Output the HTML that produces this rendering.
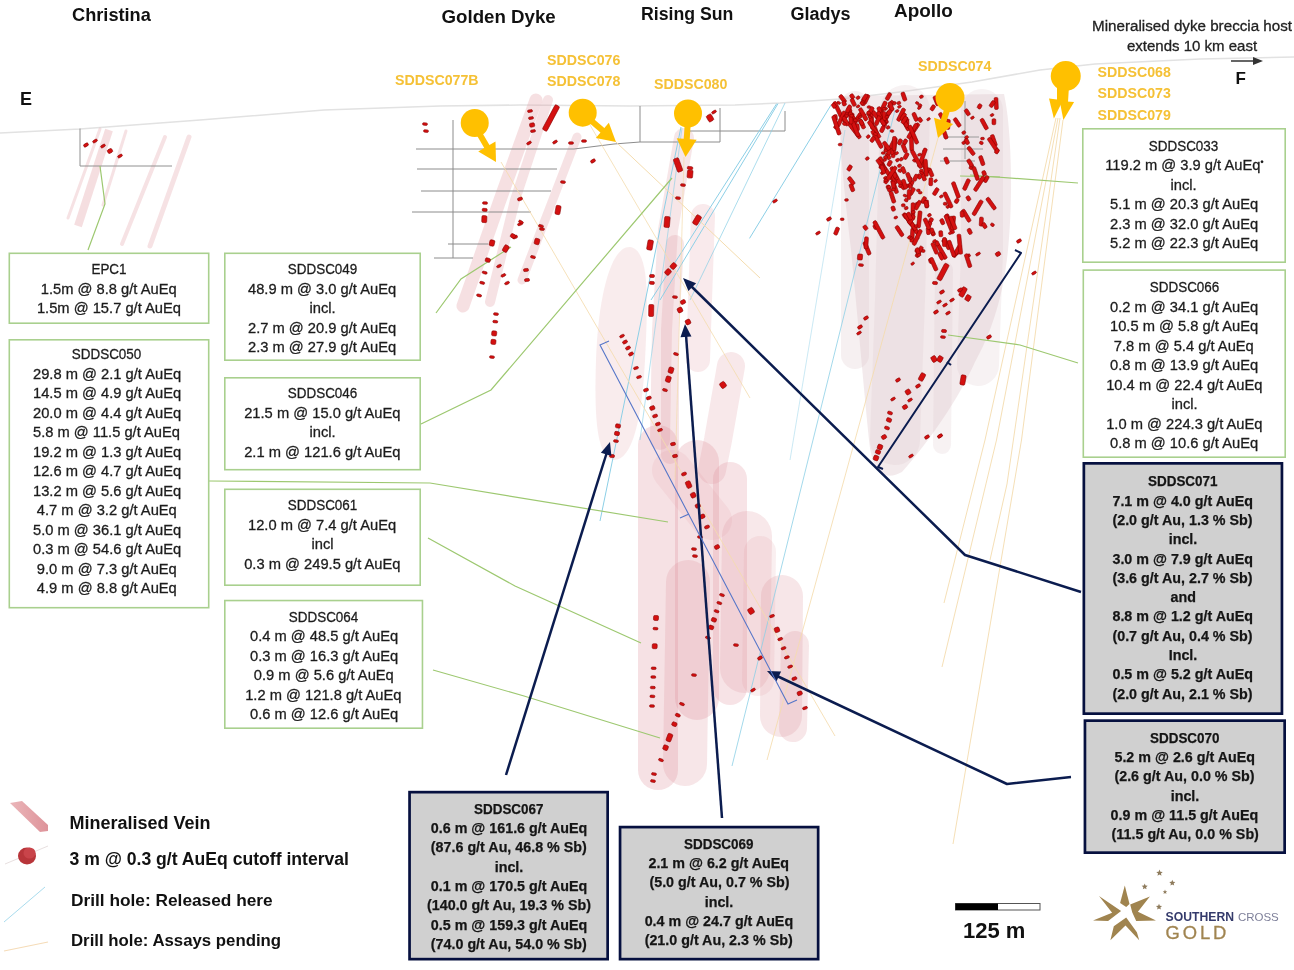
<!DOCTYPE html>
<html><head><meta charset="utf-8"><title>Section</title>
<style>
html,body{margin:0;padding:0;background:#fff;}
body{width:1294px;height:970px;position:relative;overflow:hidden;font-family:"Liberation Sans",sans-serif;}
.bx{position:absolute;}
.tx{position:absolute;text-align:center;color:#1c1c1c;white-space:nowrap;font-family:"Liberation Sans",sans-serif;-webkit-text-stroke:0.3px #1c1c1c;}
.tx.b{font-weight:bold;color:#151515;-webkit-text-stroke:0.25px #151515;}
.tx sup{font-size:9px;vertical-align:5px;line-height:0;}
.lb{position:absolute;white-space:nowrap;line-height:1;}
</style></head><body>
<svg width="1294" height="970" viewBox="0 0 1294 970" style="position:absolute;left:0;top:0"><polyline points="0,133 80,129 200,120 324,110 440,106 520,105 630,106 735,105 780,103 840,99 900,92 972,82 1040,70 1095,64 1200,59 1294,57" fill="none" stroke="#e2e2e2" stroke-width="1.5"/><polyline points="100,129 68,218" fill="none" stroke="rgb(226,160,165)" stroke-opacity="0.3" stroke-width="3" stroke-linecap="round" stroke-linejoin="round"/><line x1="109" y1="130" x2="78" y2="226" stroke="rgb(226,160,165)" stroke-opacity="0.35" stroke-width="8"/><polyline points="126,131 103,205" fill="none" stroke="rgb(226,160,165)" stroke-opacity="0.3" stroke-width="3" stroke-linecap="round" stroke-linejoin="round"/><polyline points="165,137 122,244" fill="none" stroke="rgb(226,160,165)" stroke-opacity="0.3" stroke-width="4" stroke-linecap="round" stroke-linejoin="round"/><polyline points="189,137 150,246" fill="none" stroke="rgb(226,160,165)" stroke-opacity="0.3" stroke-width="5" stroke-linecap="round" stroke-linejoin="round"/><polyline points="536,100 500,200 463,306" fill="none" stroke="rgb(226,160,165)" stroke-opacity="0.32" stroke-width="13" stroke-linecap="round" stroke-linejoin="round"/><polyline points="548,100 515,200 490,302" fill="none" stroke="rgb(226,160,165)" stroke-opacity="0.3" stroke-width="10" stroke-linecap="round" stroke-linejoin="round"/><polyline points="577,137 545,220 522,280" fill="none" stroke="rgb(226,160,165)" stroke-opacity="0.3" stroke-width="9" stroke-linecap="round" stroke-linejoin="round"/><path d="M630,247 C650,250 648,300 645,360 C642,420 632,460 614,460 C597,458 594,420 596,360 C598,300 610,246 630,247 Z" fill="rgb(220,140,150)" fill-opacity="0.17"/><polyline points="684,138 668,230 662,330 660,440" fill="none" stroke="rgb(220,140,150)" stroke-opacity="0.22" stroke-width="20" stroke-linecap="round" stroke-linejoin="round"/><polyline points="675,244 670,330 670,455" fill="none" stroke="rgb(220,140,150)" stroke-opacity="0.22" stroke-width="18" stroke-linecap="round" stroke-linejoin="round"/><polyline points="703,216 700,300 698,360" fill="none" stroke="rgb(220,140,150)" stroke-opacity="0.18" stroke-width="24" stroke-linecap="round" stroke-linejoin="round"/><polyline points="731,366 718,440 712,470" fill="none" stroke="rgb(220,140,150)" stroke-opacity="0.2" stroke-width="28" stroke-linecap="round" stroke-linejoin="round"/><polyline points="658,445 658,770" fill="none" stroke="rgb(220,140,150)" stroke-opacity="0.26" stroke-width="40" stroke-linecap="round" stroke-linejoin="round"/><polyline points="688,582 685,764" fill="none" stroke="rgb(220,140,150)" stroke-opacity="0.22" stroke-width="44" stroke-linecap="round" stroke-linejoin="round"/><polyline points="697,462 697,698" fill="none" stroke="rgb(220,140,150)" stroke-opacity="0.26" stroke-width="44" stroke-linecap="round" stroke-linejoin="round"/><polyline points="730,479 730,688" fill="none" stroke="rgb(220,140,150)" stroke-opacity="0.24" stroke-width="34" stroke-linecap="round" stroke-linejoin="round"/><polyline points="747,536 745,668" fill="none" stroke="rgb(220,140,150)" stroke-opacity="0.2" stroke-width="50" stroke-linecap="round" stroke-linejoin="round"/><polyline points="760,552 758,680" fill="none" stroke="rgb(220,140,150)" stroke-opacity="0.14" stroke-width="32" stroke-linecap="round" stroke-linejoin="round"/><polyline points="782,596 781,716" fill="none" stroke="rgb(220,140,150)" stroke-opacity="0.22" stroke-width="42" stroke-linecap="round" stroke-linejoin="round"/><polyline points="795,645 793,728" fill="none" stroke="rgb(220,140,150)" stroke-opacity="0.22" stroke-width="28" stroke-linecap="round" stroke-linejoin="round"/><polyline points="672,470 712,520" fill="none" stroke="rgb(220,140,150)" stroke-opacity="0.12" stroke-width="40" stroke-linecap="round" stroke-linejoin="round"/><path d="M838,96 L1004,94 C1012,130 1013,200 1008,250 C1003,300 990,335 975,362 C958,400 930,440 902,472 C884,482 872,472 869,440 C863,380 858,320 851,250 C844,190 839,140 838,96Z" fill="rgb(220,195,200)" fill-opacity="0.35"/><polyline points="855,105 855,355" fill="none" stroke="rgb(220,195,200)" stroke-opacity="0.25" stroke-width="28" stroke-linecap="round" stroke-linejoin="round"/><polyline points="905,110 900,300 895,440" fill="none" stroke="rgb(220,195,200)" stroke-opacity="0.22" stroke-width="50" stroke-linecap="round" stroke-linejoin="round"/><polyline points="982,110 982,250 978,365" fill="none" stroke="rgb(220,195,200)" stroke-opacity="0.22" stroke-width="42" stroke-linecap="round" stroke-linejoin="round"/><polyline points="944,270 942,445" fill="none" stroke="rgb(220,195,200)" stroke-opacity="0.22" stroke-width="18" stroke-linecap="round" stroke-linejoin="round"/><polyline points="80,128.5 80,166 172,166" fill="none" stroke="#909090" stroke-width="1"/><polyline points="453,120 453,258" fill="none" stroke="#8c8c8c" stroke-width="1"/><polyline points="416,149 574,149 614,144 640,142 720,142" fill="none" stroke="#8c8c8c" stroke-width="1"/><polyline points="417,169 557,169" fill="none" stroke="#8c8c8c" stroke-width="1"/><polyline points="421,191 551,191" fill="none" stroke="#8c8c8c" stroke-width="1"/><polyline points="412,212 531,212" fill="none" stroke="#8c8c8c" stroke-width="1"/><polyline points="448,244 488,244" fill="none" stroke="#8c8c8c" stroke-width="1"/><polyline points="434,258 473,258" fill="none" stroke="#8c8c8c" stroke-width="1"/><polyline points="640,106 640,142" fill="none" stroke="#8c8c8c" stroke-width="1"/><polyline points="720,108 720,142" fill="none" stroke="#8c8c8c" stroke-width="1"/><polyline points="690,131 785,131 785,111" fill="none" stroke="#8c8c8c" stroke-width="1"/><polyline points="965,101 965,159" fill="none" stroke="#9a9a9a" stroke-width="1"/><polyline points="943,137 979,137" fill="none" stroke="#9a9a9a" stroke-width="1"/><polyline points="943,149 983,149" fill="none" stroke="#9a9a9a" stroke-width="1"/><polyline points="940,161 975,161" fill="none" stroke="#9a9a9a" stroke-width="1"/><line x1="681" y1="127" x2="600" y2="521" stroke="#8ccfe6" stroke-width="1" stroke-opacity="1"/><line x1="682" y1="128" x2="640" y2="440" stroke="#8ccfe6" stroke-width="0.9" stroke-opacity="0.7"/><line x1="776.7" y1="103.6" x2="651" y2="300" stroke="#8ccfe6" stroke-width="1" stroke-opacity="1"/><line x1="778" y1="103.6" x2="660" y2="300" stroke="#8ccfe6" stroke-width="1" stroke-opacity="1"/><line x1="785" y1="103" x2="690" y2="300" stroke="#8ccfe6" stroke-width="0.9" stroke-opacity="0.8"/><line x1="831" y1="105" x2="749.5" y2="238.4" stroke="#8ccfe6" stroke-width="1" stroke-opacity="1"/><line x1="895" y1="110" x2="732" y2="766" stroke="#8ccfe6" stroke-width="1" stroke-opacity="0.8"/><line x1="845" y1="130" x2="790" y2="460" stroke="#8ccfe6" stroke-width="0.9" stroke-opacity="0.5"/><line x1="501" y1="162" x2="835" y2="736" stroke="#f4dcae" stroke-width="1" stroke-opacity="0.85"/><line x1="616" y1="142" x2="760" y2="278" stroke="#f4dcae" stroke-width="1" stroke-opacity="1"/><line x1="590" y1="125" x2="750" y2="398" stroke="#f4dcae" stroke-width="1" stroke-opacity="0.8"/><line x1="684" y1="157" x2="675" y2="480" stroke="#f4dcae" stroke-width="1" stroke-opacity="0.7"/><line x1="938" y1="138" x2="767" y2="760" stroke="#f4dcae" stroke-width="1" stroke-opacity="0.85"/><polyline points="1056,118 985,440 944,603" fill="none" stroke="#f4dcae" stroke-width="1" stroke-opacity="0.9"/><polyline points="1058,118 996.5,440 942,667" fill="none" stroke="#f4dcae" stroke-width="1" stroke-opacity="0.9"/><polyline points="1063,120 1021.5,440 953,844" fill="none" stroke="#f4dcae" stroke-width="1" stroke-opacity="0.9"/><polyline points="1060,118 1007,484 990,560" fill="none" stroke="#f4dcae" stroke-width="1" stroke-opacity="0.9"/><polyline points="88,250 105,204 100,166" fill="none" stroke="#9dc870" stroke-width="1.2"/><polyline points="436,313 461,279 511,247" fill="none" stroke="#9dc870" stroke-width="1.2"/><polyline points="421,424 491,390 672,178" fill="none" stroke="#9dc870" stroke-width="1.2"/><polyline points="209,481 430,483 668,522" fill="none" stroke="#9dc870" stroke-width="1.2"/><polyline points="428,538 515,586 641,643" fill="none" stroke="#9dc870" stroke-width="1.2"/><polyline points="433,670 524,696 660,738" fill="none" stroke="#9dc870" stroke-width="1.2"/><polyline points="970,175 1078,183" fill="none" stroke="#9dc870" stroke-width="1.2"/><polyline points="948,335 1020,345 1078,363" fill="none" stroke="#9dc870" stroke-width="1.2"/><polyline points="960,176 1000,177" fill="none" stroke="#9dc870" stroke-width="1.2"/><rect x="84.5" y="142.5" width="3.0" height="5.0" rx="1.3" transform="rotate(60 86.0 145.0)" fill="#d41010" stroke="#850000" stroke-width="0.55"/><rect x="93.8" y="138.5" width="2.5" height="5.0" rx="1.3" transform="rotate(60 95.0 141.0)" fill="#d41010" stroke="#850000" stroke-width="0.55"/><rect x="101.8" y="143.5" width="2.5" height="5.0" rx="1.3" transform="rotate(60 103.0 146.0)" fill="#d41010" stroke="#850000" stroke-width="0.55"/><rect x="108.0" y="148.5" width="4.0" height="5.0" rx="1.3" transform="rotate(60 110.0 151.0)" fill="#d41010" stroke="#850000" stroke-width="0.55"/><rect x="118.8" y="153.5" width="2.5" height="5.0" rx="1.3" transform="rotate(60 120.0 156.0)" fill="#d41010" stroke="#850000" stroke-width="0.55"/><rect x="528.8" y="108.5" width="2.5" height="5.0" rx="1.3" transform="rotate(81.4692 530.0 111.0)" fill="#d41010" stroke="#850000" stroke-width="0.55"/><rect x="529.8" y="115.5" width="2.5" height="5.0" rx="1.3" transform="rotate(81.4692 531.0 118.0)" fill="#d41010" stroke="#850000" stroke-width="0.55"/><rect x="530.1" y="122.5" width="4.0" height="5.0" rx="1.3" transform="rotate(81.4692 532.1 125.0)" fill="#d41010" stroke="#850000" stroke-width="0.55"/><rect x="531.8" y="128.5" width="2.5" height="5.0" rx="1.3" transform="rotate(81.4692 533.0 131.0)" fill="#d41010" stroke="#850000" stroke-width="0.55"/><rect x="537.0" y="115.5" width="28.0" height="5.0" rx="1.3" transform="rotate(118 551.0 118.0)" fill="#d41010" stroke="#850000" stroke-width="0.55"/><rect x="423.8" y="121.5" width="2.5" height="5.0" rx="1.3" transform="rotate(95 425.0 124.0)" fill="#d41010" stroke="#850000" stroke-width="0.55"/><rect x="424.8" y="128.5" width="2.5" height="5.0" rx="1.3" transform="rotate(95 426.0 131.0)" fill="#d41010" stroke="#850000" stroke-width="0.55"/><rect x="527.8" y="140.5" width="2.5" height="5.0" rx="1.3" transform="rotate(60 529.0 143.0)" fill="#d41010" stroke="#850000" stroke-width="0.55"/><rect x="553.8" y="139.5" width="2.5" height="5.0" rx="1.3" transform="rotate(60 555.0 142.0)" fill="#d41010" stroke="#850000" stroke-width="0.55"/><rect x="569.8" y="140.5" width="2.5" height="5.0" rx="1.3" transform="rotate(90 571.0 143.0)" fill="#d41010" stroke="#850000" stroke-width="0.55"/><rect x="582.8" y="138.5" width="2.5" height="5.0" rx="1.3" transform="rotate(90 584.0 141.0)" fill="#d41010" stroke="#850000" stroke-width="0.55"/><rect x="591.5" y="158.5" width="3.0" height="5.0" rx="1.3" transform="rotate(60 593.0 161.0)" fill="#d41010" stroke="#850000" stroke-width="0.55"/><rect x="561.8" y="179.5" width="2.5" height="5.0" rx="1.3" transform="rotate(95 563.0 182.0)" fill="#d41010" stroke="#850000" stroke-width="0.55"/><rect x="518.5" y="196.5" width="3.0" height="5.0" rx="1.3" transform="rotate(70 520.0 199.0)" fill="#d41010" stroke="#850000" stroke-width="0.55"/><rect x="553.5" y="207.5" width="9.0" height="5.0" rx="1.3" transform="rotate(100 558.0 210.0)" fill="#d41010" stroke="#850000" stroke-width="0.55"/><rect x="518.8" y="221.5" width="2.5" height="5.0" rx="1.3" transform="rotate(70 520.0 224.0)" fill="#d41010" stroke="#850000" stroke-width="0.55"/><rect x="540.8" y="226.5" width="2.5" height="5.0" rx="1.3" transform="rotate(95 542.0 229.0)" fill="#d41010" stroke="#850000" stroke-width="0.55"/><rect x="513.5" y="234.5" width="3.0" height="5.0" rx="1.3" transform="rotate(70 515.0 237.0)" fill="#d41010" stroke="#850000" stroke-width="0.55"/><rect x="483.8" y="200.5" width="2.5" height="5.0" rx="1.3" transform="rotate(92.4896 485.0 203.0)" fill="#d41010" stroke="#850000" stroke-width="0.55"/><rect x="483.2" y="207.4" width="3.0" height="5.0" rx="1.3" transform="rotate(92.4896 484.7 209.9)" fill="#d41010" stroke="#850000" stroke-width="0.55"/><rect x="480.8" y="216.6" width="7.0" height="5.0" rx="1.3" transform="rotate(92.4896 484.3 219.1)" fill="#d41010" stroke="#850000" stroke-width="0.55"/><rect x="489.0" y="240.5" width="6.0" height="5.0" rx="1.3" transform="rotate(103.799 492.0 243.0)" fill="#d41010" stroke="#850000" stroke-width="0.55"/><rect x="485.8" y="257.6" width="4.0" height="5.0" rx="1.3" transform="rotate(103.799 487.8 260.1)" fill="#d41010" stroke="#850000" stroke-width="0.55"/><rect x="483.5" y="270.1" width="2.5" height="5.0" rx="1.3" transform="rotate(103.799 484.7 272.6)" fill="#d41010" stroke="#850000" stroke-width="0.55"/><rect x="480.9" y="280.4" width="2.5" height="5.0" rx="1.3" transform="rotate(103.799 482.2 282.9)" fill="#d41010" stroke="#850000" stroke-width="0.55"/><rect x="477.9" y="292.9" width="2.5" height="5.0" rx="1.3" transform="rotate(103.799 479.1 295.4)" fill="#d41010" stroke="#850000" stroke-width="0.55"/><rect x="519.8" y="219.5" width="2.5" height="5.0" rx="1.3" transform="rotate(119.745 521.0 222.0)" fill="#d41010" stroke="#850000" stroke-width="0.55"/><rect x="511.0" y="233.5" width="4.0" height="5.0" rx="1.3" transform="rotate(119.745 513.0 236.0)" fill="#d41010" stroke="#850000" stroke-width="0.55"/><rect x="502.3" y="246.1" width="7.0" height="5.0" rx="1.3" transform="rotate(119.745 505.8 248.6)" fill="#d41010" stroke="#850000" stroke-width="0.55"/><rect x="497.8" y="263.5" width="2.5" height="5.0" rx="1.3" transform="rotate(64.7989 499.0 266.0)" fill="#d41010" stroke="#850000" stroke-width="0.55"/><rect x="502.1" y="272.9" width="2.5" height="5.0" rx="1.3" transform="rotate(64.7989 503.4 275.4)" fill="#d41010" stroke="#850000" stroke-width="0.55"/><rect x="505.8" y="280.5" width="2.5" height="5.0" rx="1.3" transform="rotate(64.7989 507.0 283.0)" fill="#d41010" stroke="#850000" stroke-width="0.55"/><rect x="539.8" y="223.5" width="2.5" height="5.0" rx="1.3" transform="rotate(104.47 541.0 226.0)" fill="#d41010" stroke="#850000" stroke-width="0.55"/><rect x="534.0" y="239.0" width="6.0" height="5.0" rx="1.3" transform="rotate(104.47 537.0 241.5)" fill="#d41010" stroke="#850000" stroke-width="0.55"/><rect x="531.8" y="254.5" width="2.5" height="5.0" rx="1.3" transform="rotate(104.47 533.0 257.0)" fill="#d41010" stroke="#850000" stroke-width="0.55"/><rect x="524.5" y="267.5" width="3.0" height="5.0" rx="1.3" transform="rotate(84.2894 526.0 270.0)" fill="#d41010" stroke="#850000" stroke-width="0.55"/><rect x="525.5" y="277.5" width="3.0" height="5.0" rx="1.3" transform="rotate(84.2894 527.0 280.0)" fill="#d41010" stroke="#850000" stroke-width="0.55"/><rect x="494.8" y="311.5" width="2.5" height="5.0" rx="1.3" transform="rotate(95.3145 496.0 314.0)" fill="#d41010" stroke="#850000" stroke-width="0.55"/><rect x="494.0" y="319.2" width="2.5" height="5.0" rx="1.3" transform="rotate(95.3145 495.3 321.7)" fill="#d41010" stroke="#850000" stroke-width="0.55"/><rect x="491.7" y="330.9" width="5.0" height="5.0" rx="1.3" transform="rotate(95.3145 494.2 333.4)" fill="#d41010" stroke="#850000" stroke-width="0.55"/><rect x="490.9" y="339.4" width="5.0" height="5.0" rx="1.3" transform="rotate(95.3145 493.4 341.9)" fill="#d41010" stroke="#850000" stroke-width="0.55"/><rect x="490.8" y="354.5" width="2.5" height="5.0" rx="1.3" transform="rotate(95.3145 492.0 357.0)" fill="#d41010" stroke="#850000" stroke-width="0.55"/><rect x="671.0" y="162.2" width="14.0" height="5.5" rx="1.3" transform="rotate(70 678.0 165.0)" fill="#d41010" stroke="#850000" stroke-width="0.55"/><rect x="686.0" y="171.2" width="8.0" height="5.5" rx="1.3" transform="rotate(95 690.0 174.0)" fill="#d41010" stroke="#850000" stroke-width="0.55"/><rect x="688.5" y="165.2" width="3.0" height="5.5" rx="1.3" transform="rotate(95 690.0 168.0)" fill="#d41010" stroke="#850000" stroke-width="0.55"/><rect x="681.8" y="182.5" width="2.5" height="5.0" rx="1.3" transform="rotate(95 683.0 185.0)" fill="#d41010" stroke="#850000" stroke-width="0.55"/><rect x="676.8" y="195.5" width="2.5" height="5.0" rx="1.3" transform="rotate(95 678.0 198.0)" fill="#d41010" stroke="#850000" stroke-width="0.55"/><rect x="661.5" y="219.2" width="11.0" height="5.5" rx="1.3" transform="rotate(95 667.0 222.0)" fill="#d41010" stroke="#850000" stroke-width="0.55"/><rect x="645.0" y="242.2" width="10.0" height="5.5" rx="1.3" transform="rotate(100 650.0 245.0)" fill="#d41010" stroke="#850000" stroke-width="0.55"/><rect x="650.5" y="273.5" width="3.0" height="5.0" rx="1.3" transform="rotate(91.2454 652.0 276.0)" fill="#d41010" stroke="#850000" stroke-width="0.55"/><rect x="650.4" y="280.4" width="3.0" height="5.0" rx="1.3" transform="rotate(91.2454 651.9 282.9)" fill="#d41010" stroke="#850000" stroke-width="0.55"/><rect x="645.2" y="308.0" width="12.0" height="5.0" rx="1.3" transform="rotate(91.2454 651.2 310.5)" fill="#d41010" stroke="#850000" stroke-width="0.55"/><rect x="665.0" y="269.5" width="6.0" height="5.0" rx="1.3" transform="rotate(-48.0128 668.0 272.0)" fill="#d41010" stroke="#850000" stroke-width="0.55"/><rect x="670.4" y="263.5" width="6.0" height="5.0" rx="1.3" transform="rotate(-48.0128 673.4 266.0)" fill="#d41010" stroke="#850000" stroke-width="0.55"/><rect x="673.8" y="294.5" width="2.5" height="5.0" rx="1.3" transform="rotate(95 675.0 297.0)" fill="#d41010" stroke="#850000" stroke-width="0.55"/><rect x="677.5" y="307.5" width="5.0" height="5.0" rx="1.3" transform="rotate(65 680.0 310.0)" fill="#d41010" stroke="#850000" stroke-width="0.55"/><rect x="681.0" y="299.5" width="4.0" height="5.0" rx="1.3" transform="rotate(65 683.0 302.0)" fill="#d41010" stroke="#850000" stroke-width="0.55"/><rect x="685.5" y="319.5" width="5.0" height="5.0" rx="1.3" transform="rotate(65 688.0 322.0)" fill="#d41010" stroke="#850000" stroke-width="0.55"/><rect x="692.0" y="217.2" width="10.0" height="5.5" rx="1.3" transform="rotate(120 697.0 220.0)" fill="#d41010" stroke="#850000" stroke-width="0.55"/><rect x="706.5" y="115.2" width="7.0" height="5.5" rx="1.3" transform="rotate(60 710.0 118.0)" fill="#d41010" stroke="#850000" stroke-width="0.55"/><rect x="712.8" y="109.5" width="2.5" height="5.0" rx="1.3" transform="rotate(60 714.0 112.0)" fill="#d41010" stroke="#850000" stroke-width="0.55"/><rect x="620.8" y="333.5" width="2.5" height="5.0" rx="1.3" transform="rotate(63.4349 622.0 336.0)" fill="#d41010" stroke="#850000" stroke-width="0.55"/><rect x="623.5" y="339.5" width="3.0" height="5.0" rx="1.3" transform="rotate(63.4349 625.0 342.0)" fill="#d41010" stroke="#850000" stroke-width="0.55"/><rect x="626.5" y="345.5" width="3.0" height="5.0" rx="1.3" transform="rotate(63.4349 628.0 348.0)" fill="#d41010" stroke="#850000" stroke-width="0.55"/><rect x="629.5" y="351.5" width="3.0" height="5.0" rx="1.3" transform="rotate(63.4349 631.0 354.0)" fill="#d41010" stroke="#850000" stroke-width="0.55"/><rect x="634.8" y="365.5" width="2.5" height="5.0" rx="1.3" transform="rotate(71.5651 636.0 368.0)" fill="#d41010" stroke="#850000" stroke-width="0.55"/><rect x="637.8" y="374.5" width="2.5" height="5.0" rx="1.3" transform="rotate(71.5651 639.0 377.0)" fill="#d41010" stroke="#850000" stroke-width="0.55"/><rect x="644.5" y="387.5" width="3.0" height="5.0" rx="1.3" transform="rotate(70.71 646.0 390.0)" fill="#d41010" stroke="#850000" stroke-width="0.55"/><rect x="647.3" y="395.5" width="3.0" height="5.0" rx="1.3" transform="rotate(70.71 648.8 398.0)" fill="#d41010" stroke="#850000" stroke-width="0.55"/><rect x="650.3" y="405.5" width="4.0" height="5.0" rx="1.3" transform="rotate(70.71 652.3 408.0)" fill="#d41010" stroke="#850000" stroke-width="0.55"/><rect x="653.6" y="413.5" width="3.0" height="5.0" rx="1.3" transform="rotate(70.71 655.1 416.0)" fill="#d41010" stroke="#850000" stroke-width="0.55"/><rect x="656.4" y="421.5" width="3.0" height="5.0" rx="1.3" transform="rotate(70.71 657.9 424.0)" fill="#d41010" stroke="#850000" stroke-width="0.55"/><rect x="658.8" y="427.5" width="2.5" height="5.0" rx="1.3" transform="rotate(70.71 660.0 430.0)" fill="#d41010" stroke="#850000" stroke-width="0.55"/><rect x="616.0" y="423.5" width="4.0" height="5.0" rx="1.3" transform="rotate(97.5946 618.0 426.0)" fill="#d41010" stroke="#850000" stroke-width="0.55"/><rect x="615.0" y="431.0" width="4.0" height="5.0" rx="1.3" transform="rotate(97.5946 617.0 433.5)" fill="#d41010" stroke="#850000" stroke-width="0.55"/><rect x="614.8" y="438.5" width="2.5" height="5.0" rx="1.3" transform="rotate(97.5946 616.0 441.0)" fill="#d41010" stroke="#850000" stroke-width="0.55"/><rect x="674.8" y="351.5" width="2.5" height="5.0" rx="1.3" transform="rotate(106.991 676.0 354.0)" fill="#d41010" stroke="#850000" stroke-width="0.55"/><rect x="668.0" y="367.7" width="6.0" height="5.0" rx="1.3" transform="rotate(106.991 671.0 370.2)" fill="#d41010" stroke="#850000" stroke-width="0.55"/><rect x="665.3" y="376.7" width="6.0" height="5.0" rx="1.3" transform="rotate(106.991 668.3 379.2)" fill="#d41010" stroke="#850000" stroke-width="0.55"/><rect x="663.8" y="387.5" width="2.5" height="5.0" rx="1.3" transform="rotate(106.991 665.0 390.0)" fill="#d41010" stroke="#850000" stroke-width="0.55"/><rect x="720.0" y="382.2" width="6.0" height="5.5" rx="1.3" transform="rotate(55 723.0 385.0)" fill="#d41010" stroke="#850000" stroke-width="0.55"/><rect x="610.5" y="453.5" width="3.0" height="5.0" rx="1.3" transform="rotate(95 612.0 456.0)" fill="#d41010" stroke="#850000" stroke-width="0.55"/><rect x="671.5" y="441.5" width="3.0" height="5.0" rx="1.3" transform="rotate(80.5377 673.0 444.0)" fill="#d41010" stroke="#850000" stroke-width="0.55"/><rect x="673.5" y="453.5" width="3.0" height="5.0" rx="1.3" transform="rotate(80.5377 675.0 456.0)" fill="#d41010" stroke="#850000" stroke-width="0.55"/><rect x="682.5" y="471.5" width="3.0" height="5.0" rx="1.3" transform="rotate(66.541 684.0 474.0)" fill="#d41010" stroke="#850000" stroke-width="0.55"/><rect x="685.1" y="482.1" width="7.0" height="5.0" rx="1.3" transform="rotate(66.541 688.6 484.6)" fill="#d41010" stroke="#850000" stroke-width="0.55"/><rect x="690.7" y="492.7" width="5.0" height="5.0" rx="1.3" transform="rotate(66.541 693.2 495.2)" fill="#d41010" stroke="#850000" stroke-width="0.55"/><rect x="695.8" y="503.3" width="4.0" height="5.0" rx="1.3" transform="rotate(66.541 697.8 505.8)" fill="#d41010" stroke="#850000" stroke-width="0.55"/><rect x="700.4" y="513.9" width="4.0" height="5.0" rx="1.3" transform="rotate(66.541 702.4 516.4)" fill="#d41010" stroke="#850000" stroke-width="0.55"/><rect x="705.5" y="524.5" width="3.0" height="5.0" rx="1.3" transform="rotate(66.541 707.0 527.0)" fill="#d41010" stroke="#850000" stroke-width="0.55"/><rect x="698.8" y="534.5" width="2.5" height="5.0" rx="1.3" transform="rotate(95 700.0 537.0)" fill="#d41010" stroke="#850000" stroke-width="0.55"/><rect x="715.0" y="544.5" width="4.0" height="5.0" rx="1.3" transform="rotate(65 717.0 547.0)" fill="#d41010" stroke="#850000" stroke-width="0.55"/><rect x="692.8" y="546.5" width="2.5" height="5.0" rx="1.3" transform="rotate(95 694.0 549.0)" fill="#d41010" stroke="#850000" stroke-width="0.55"/><rect x="693.8" y="553.5" width="2.5" height="5.0" rx="1.3" transform="rotate(95 695.0 556.0)" fill="#d41010" stroke="#850000" stroke-width="0.55"/><rect x="653.5" y="615.5" width="5.0" height="5.0" rx="1.3" transform="rotate(92.6026 656.0 618.0)" fill="#d41010" stroke="#850000" stroke-width="0.55"/><rect x="654.3" y="626.1" width="2.5" height="5.0" rx="1.3" transform="rotate(92.6026 655.5 628.6)" fill="#d41010" stroke="#850000" stroke-width="0.55"/><rect x="652.2" y="643.7" width="5.0" height="5.0" rx="1.3" transform="rotate(92.6026 654.7 646.2)" fill="#d41010" stroke="#850000" stroke-width="0.55"/><rect x="652.5" y="665.7" width="2.5" height="5.0" rx="1.3" transform="rotate(92.6026 653.7 668.2)" fill="#d41010" stroke="#850000" stroke-width="0.55"/><rect x="652.1" y="674.5" width="2.5" height="5.0" rx="1.3" transform="rotate(92.6026 653.3 677.0)" fill="#d41010" stroke="#850000" stroke-width="0.55"/><rect x="651.6" y="685.0" width="2.5" height="5.0" rx="1.3" transform="rotate(92.6026 652.8 687.5)" fill="#d41010" stroke="#850000" stroke-width="0.55"/><rect x="651.2" y="693.8" width="2.5" height="5.0" rx="1.3" transform="rotate(92.6026 652.4 696.3)" fill="#d41010" stroke="#850000" stroke-width="0.55"/><rect x="650.8" y="703.5" width="2.5" height="5.0" rx="1.3" transform="rotate(92.6026 652.0 706.0)" fill="#d41010" stroke="#850000" stroke-width="0.55"/><rect x="720.8" y="592.5" width="2.5" height="5.0" rx="1.3" transform="rotate(108.435 722.0 595.0)" fill="#d41010" stroke="#850000" stroke-width="0.55"/><rect x="718.0" y="600.6" width="2.5" height="5.0" rx="1.3" transform="rotate(108.435 719.3 603.1)" fill="#d41010" stroke="#850000" stroke-width="0.55"/><rect x="715.4" y="608.7" width="2.5" height="5.0" rx="1.3" transform="rotate(108.435 716.6 611.2)" fill="#d41010" stroke="#850000" stroke-width="0.55"/><rect x="711.8" y="617.2" width="4.0" height="5.0" rx="1.3" transform="rotate(108.435 713.8 619.8)" fill="#d41010" stroke="#850000" stroke-width="0.55"/><rect x="709.2" y="624.9" width="4.0" height="5.0" rx="1.3" transform="rotate(108.435 711.2 627.4)" fill="#d41010" stroke="#850000" stroke-width="0.55"/><rect x="706.5" y="635.2" width="2.5" height="5.0" rx="1.3" transform="rotate(108.435 707.8 637.8)" fill="#d41010" stroke="#850000" stroke-width="0.55"/><rect x="692.8" y="672.5" width="2.5" height="5.0" rx="1.3" transform="rotate(95 694.0 675.0)" fill="#d41010" stroke="#850000" stroke-width="0.55"/><rect x="680.8" y="701.5" width="2.5" height="5.0" rx="1.3" transform="rotate(110.556 682.0 704.0)" fill="#d41010" stroke="#850000" stroke-width="0.55"/><rect x="676.3" y="712.7" width="3.0" height="5.0" rx="1.3" transform="rotate(110.556 677.8 715.2)" fill="#d41010" stroke="#850000" stroke-width="0.55"/><rect x="672.4" y="721.7" width="4.0" height="5.0" rx="1.3" transform="rotate(110.556 674.4 724.2)" fill="#d41010" stroke="#850000" stroke-width="0.55"/><rect x="665.4" y="735.1" width="8.0" height="5.0" rx="1.3" transform="rotate(110.556 669.4 737.6)" fill="#d41010" stroke="#850000" stroke-width="0.55"/><rect x="663.1" y="745.2" width="5.0" height="5.0" rx="1.3" transform="rotate(110.556 665.6 747.7)" fill="#d41010" stroke="#850000" stroke-width="0.55"/><rect x="659.8" y="757.5" width="2.5" height="5.0" rx="1.3" transform="rotate(110.556 661.0 760.0)" fill="#d41010" stroke="#850000" stroke-width="0.55"/><rect x="652.8" y="771.5" width="2.5" height="5.0" rx="1.3" transform="rotate(98.1301 654.0 774.0)" fill="#d41010" stroke="#850000" stroke-width="0.55"/><rect x="651.8" y="778.5" width="2.5" height="5.0" rx="1.3" transform="rotate(98.1301 653.0 781.0)" fill="#d41010" stroke="#850000" stroke-width="0.55"/><rect x="748.0" y="608.2" width="6.0" height="5.5" rx="1.3" transform="rotate(60 751.0 611.0)" fill="#d41010" stroke="#850000" stroke-width="0.55"/><rect x="770.8" y="613.5" width="2.5" height="5.0" rx="1.3" transform="rotate(70.2673 772.0 616.0)" fill="#d41010" stroke="#850000" stroke-width="0.55"/><rect x="774.5" y="627.3" width="5.0" height="5.0" rx="1.3" transform="rotate(70.2673 777.0 629.8)" fill="#d41010" stroke="#850000" stroke-width="0.55"/><rect x="779.0" y="636.5" width="2.5" height="5.0" rx="1.3" transform="rotate(70.2673 780.2 639.0)" fill="#d41010" stroke="#850000" stroke-width="0.55"/><rect x="782.3" y="645.7" width="2.5" height="5.0" rx="1.3" transform="rotate(70.2673 783.5 648.2)" fill="#d41010" stroke="#850000" stroke-width="0.55"/><rect x="785.6" y="654.9" width="2.5" height="5.0" rx="1.3" transform="rotate(70.2673 786.9 657.4)" fill="#d41010" stroke="#850000" stroke-width="0.55"/><rect x="788.9" y="664.1" width="2.5" height="5.0" rx="1.3" transform="rotate(70.2673 790.1 666.6)" fill="#d41010" stroke="#850000" stroke-width="0.55"/><rect x="792.9" y="676.1" width="3.0" height="5.0" rx="1.3" transform="rotate(70.2673 794.4 678.6)" fill="#d41010" stroke="#850000" stroke-width="0.55"/><rect x="797.7" y="690.8" width="4.0" height="5.0" rx="1.3" transform="rotate(70.2673 799.7 693.3)" fill="#d41010" stroke="#850000" stroke-width="0.55"/><rect x="803.8" y="705.5" width="2.5" height="5.0" rx="1.3" transform="rotate(70.2673 805.0 708.0)" fill="#d41010" stroke="#850000" stroke-width="0.55"/><rect x="758.5" y="655.5" width="3.0" height="5.0" rx="1.3" transform="rotate(60 760.0 658.0)" fill="#d41010" stroke="#850000" stroke-width="0.55"/><rect x="751.8" y="687.5" width="2.5" height="5.0" rx="1.3" transform="rotate(60 753.0 690.0)" fill="#d41010" stroke="#850000" stroke-width="0.55"/><rect x="734.8" y="642.5" width="2.5" height="5.0" rx="1.3" transform="rotate(95 736.0 645.0)" fill="#d41010" stroke="#850000" stroke-width="0.55"/><rect x="773.8" y="198.5" width="2.5" height="5.0" rx="1.3" transform="rotate(60 775.0 201.0)" fill="#d41010" stroke="#850000" stroke-width="0.55"/><rect x="827.5" y="216.5" width="3.0" height="5.0" rx="1.3" transform="rotate(60 829.0 219.0)" fill="#d41010" stroke="#850000" stroke-width="0.55"/><rect x="816.8" y="230.5" width="2.5" height="5.0" rx="1.3" transform="rotate(60 818.0 233.0)" fill="#d41010" stroke="#850000" stroke-width="0.55"/><rect x="857.0" y="254.5" width="6.0" height="5.0" rx="1.3" transform="rotate(95 860.0 257.0)" fill="#d41010" stroke="#850000" stroke-width="0.55"/><rect x="859.8" y="262.5" width="2.5" height="5.0" rx="1.3" transform="rotate(95 861.0 265.0)" fill="#d41010" stroke="#850000" stroke-width="0.55"/><rect x="864.5" y="315.5" width="3.0" height="5.0" rx="1.3" transform="rotate(60 866.0 318.0)" fill="#d41010" stroke="#850000" stroke-width="0.55"/><rect x="858.5" y="324.5" width="3.0" height="5.0" rx="1.3" transform="rotate(60 860.0 327.0)" fill="#d41010" stroke="#850000" stroke-width="0.55"/><rect x="857.8" y="330.5" width="2.5" height="5.0" rx="1.3" transform="rotate(60 859.0 333.0)" fill="#d41010" stroke="#850000" stroke-width="0.55"/><rect x="909.8" y="453.5" width="2.5" height="5.0" rx="1.3" transform="rotate(60 911.0 456.0)" fill="#d41010" stroke="#850000" stroke-width="0.55"/><rect x="1017.5" y="238.5" width="3.0" height="5.0" rx="1.3" transform="rotate(60 1019.0 241.0)" fill="#d41010" stroke="#850000" stroke-width="0.55"/><rect x="1032.8" y="270.5" width="2.5" height="5.0" rx="1.3" transform="rotate(60 1034.0 273.0)" fill="#d41010" stroke="#850000" stroke-width="0.55"/><rect x="987.5" y="334.5" width="3.0" height="5.0" rx="1.3" transform="rotate(60 989.0 337.0)" fill="#d41010" stroke="#850000" stroke-width="0.55"/><rect x="938.8" y="433.5" width="2.5" height="5.0" rx="1.3" transform="rotate(60 940.0 436.0)" fill="#d41010" stroke="#850000" stroke-width="0.55"/><rect x="934.0" y="269.5" width="18.0" height="5.0" rx="1.3" transform="rotate(118 943.0 272.0)" fill="#d41010" stroke="#850000" stroke-width="0.55"/><rect x="933.5" y="280.5" width="3.0" height="5.0" rx="1.3" transform="rotate(95 935.0 283.0)" fill="#d41010" stroke="#850000" stroke-width="0.55"/><rect x="940.5" y="289.5" width="3.0" height="5.0" rx="1.3" transform="rotate(60 942.0 292.0)" fill="#d41010" stroke="#850000" stroke-width="0.55"/><rect x="937.8" y="299.5" width="2.5" height="5.0" rx="1.3" transform="rotate(60 939.0 302.0)" fill="#d41010" stroke="#850000" stroke-width="0.55"/><rect x="943.8" y="302.5" width="2.5" height="5.0" rx="1.3" transform="rotate(60 945.0 305.0)" fill="#d41010" stroke="#850000" stroke-width="0.55"/><rect x="946.8" y="310.5" width="2.5" height="5.0" rx="1.3" transform="rotate(60 948.0 313.0)" fill="#d41010" stroke="#850000" stroke-width="0.55"/><rect x="934.5" y="309.5" width="3.0" height="5.0" rx="1.3" transform="rotate(60 936.0 312.0)" fill="#d41010" stroke="#850000" stroke-width="0.55"/><rect x="958.0" y="289.5" width="10.0" height="5.0" rx="1.3" transform="rotate(118 963.0 292.0)" fill="#d41010" stroke="#850000" stroke-width="0.55"/><rect x="965.0" y="295.5" width="6.0" height="5.0" rx="1.3" transform="rotate(118 968.0 298.0)" fill="#d41010" stroke="#850000" stroke-width="0.55"/><rect x="966.5" y="253.5" width="3.0" height="5.0" rx="1.3" transform="rotate(60 968.0 256.0)" fill="#d41010" stroke="#850000" stroke-width="0.55"/><rect x="976.8" y="251.5" width="2.5" height="5.0" rx="1.3" transform="rotate(60 978.0 254.0)" fill="#d41010" stroke="#850000" stroke-width="0.55"/><rect x="996.0" y="251.5" width="4.0" height="5.0" rx="1.3" transform="rotate(60 998.0 254.0)" fill="#d41010" stroke="#850000" stroke-width="0.55"/><rect x="942.5" y="328.5" width="3.0" height="5.0" rx="1.3" transform="rotate(95 944.0 331.0)" fill="#d41010" stroke="#850000" stroke-width="0.55"/><rect x="941.8" y="334.5" width="2.5" height="5.0" rx="1.3" transform="rotate(95 943.0 337.0)" fill="#d41010" stroke="#850000" stroke-width="0.55"/><rect x="931.0" y="356.5" width="6.0" height="5.0" rx="1.3" transform="rotate(60 934.0 359.0)" fill="#d41010" stroke="#850000" stroke-width="0.55"/><rect x="937.0" y="356.5" width="6.0" height="5.0" rx="1.3" transform="rotate(118 940.0 359.0)" fill="#d41010" stroke="#850000" stroke-width="0.55"/><rect x="958.0" y="377.5" width="10.0" height="5.0" rx="1.3" transform="rotate(100 963.0 380.0)" fill="#d41010" stroke="#850000" stroke-width="0.55"/><rect x="918.0" y="374.5" width="8.0" height="5.0" rx="1.3" transform="rotate(118 922.0 377.0)" fill="#d41010" stroke="#850000" stroke-width="0.55"/><rect x="916.5" y="383.5" width="3.0" height="5.0" rx="1.3" transform="rotate(60 918.0 386.0)" fill="#d41010" stroke="#850000" stroke-width="0.55"/><rect x="905.5" y="389.5" width="5.0" height="5.0" rx="1.3" transform="rotate(60 908.0 392.0)" fill="#d41010" stroke="#850000" stroke-width="0.55"/><rect x="908.8" y="397.5" width="2.5" height="5.0" rx="1.3" transform="rotate(60 910.0 400.0)" fill="#d41010" stroke="#850000" stroke-width="0.55"/><rect x="903.0" y="404.5" width="4.0" height="5.0" rx="1.3" transform="rotate(60 905.0 407.0)" fill="#d41010" stroke="#850000" stroke-width="0.55"/><rect x="891.8" y="396.5" width="2.5" height="5.0" rx="1.3" transform="rotate(60 893.0 399.0)" fill="#d41010" stroke="#850000" stroke-width="0.55"/><rect x="888.5" y="410.5" width="3.0" height="5.0" rx="1.3" transform="rotate(110 890.0 413.0)" fill="#d41010" stroke="#850000" stroke-width="0.55"/><rect x="887.0" y="417.5" width="4.0" height="5.0" rx="1.3" transform="rotate(110 889.0 420.0)" fill="#d41010" stroke="#850000" stroke-width="0.55"/><rect x="885.5" y="425.5" width="3.0" height="5.0" rx="1.3" transform="rotate(110 887.0 428.0)" fill="#d41010" stroke="#850000" stroke-width="0.55"/><rect x="882.0" y="434.5" width="4.0" height="5.0" rx="1.3" transform="rotate(60 884.0 437.0)" fill="#d41010" stroke="#850000" stroke-width="0.55"/><rect x="877.5" y="444.5" width="5.0" height="5.0" rx="1.3" transform="rotate(110 880.0 447.0)" fill="#d41010" stroke="#850000" stroke-width="0.55"/><rect x="876.0" y="449.5" width="4.0" height="5.0" rx="1.3" transform="rotate(110 878.0 452.0)" fill="#d41010" stroke="#850000" stroke-width="0.55"/><rect x="873.5" y="455.5" width="5.0" height="5.0" rx="1.3" transform="rotate(110 876.0 458.0)" fill="#d41010" stroke="#850000" stroke-width="0.55"/><rect x="925.5" y="434.5" width="3.0" height="5.0" rx="1.3" transform="rotate(60 927.0 437.0)" fill="#d41010" stroke="#850000" stroke-width="0.55"/><rect x="938.5" y="433.5" width="3.0" height="5.0" rx="1.3" transform="rotate(60 940.0 436.0)" fill="#d41010" stroke="#850000" stroke-width="0.55"/><rect x="896.5" y="377.5" width="3.0" height="5.0" rx="1.3" transform="rotate(60 898.0 380.0)" fill="#d41010" stroke="#850000" stroke-width="0.55"/><rect x="958.5" y="287.5" width="3.0" height="5.0" rx="1.3" transform="rotate(60 960.0 290.0)" fill="#d41010" stroke="#850000" stroke-width="0.55"/><rect x="950.8" y="297.5" width="2.5" height="5.0" rx="1.3" transform="rotate(60 952.0 300.0)" fill="#d41010" stroke="#850000" stroke-width="0.55"/><rect x="874.6" y="114.3" width="17.0" height="3.8" rx="1.3" transform="rotate(69.1009 883.1 116.2)" fill="#d41010" stroke="#850000" stroke-width="0.55"/><rect x="849.0" y="123.0" width="9.0" height="3.8" rx="1.3" transform="rotate(111.412 853.5 124.9)" fill="#d41010" stroke="#850000" stroke-width="0.55"/><rect x="861.3" y="97.4" width="10.0" height="3.8" rx="1.3" transform="rotate(115.942 866.3 99.3)" fill="#d41010" stroke="#850000" stroke-width="0.55"/><rect x="878.7" y="120.7" width="9.0" height="3.8" rx="1.3" transform="rotate(62.5676 883.2 122.6)" fill="#d41010" stroke="#850000" stroke-width="0.55"/><rect x="837.5" y="100.9" width="2.5" height="3.8" rx="1.3" transform="rotate(114.894 838.7 102.8)" fill="#d41010" stroke="#850000" stroke-width="0.55"/><rect x="897.3" y="101.1" width="3.0" height="3.8" rx="1.3" transform="rotate(65.249 898.8 103.0)" fill="#d41010" stroke="#850000" stroke-width="0.55"/><rect x="878.7" y="104.1" width="10.0" height="3.8" rx="1.3" transform="rotate(114.729 883.7 106.0)" fill="#d41010" stroke="#850000" stroke-width="0.55"/><rect x="856.7" y="104.5" width="2.5" height="3.8" rx="1.3" transform="rotate(68.9317 858.0 106.4)" fill="#d41010" stroke="#850000" stroke-width="0.55"/><rect x="870.7" y="128.6" width="10.0" height="3.8" rx="1.3" transform="rotate(70.5408 875.7 130.5)" fill="#d41010" stroke="#850000" stroke-width="0.55"/><rect x="829.4" y="107.6" width="17.0" height="3.8" rx="1.3" transform="rotate(64.5891 837.9 109.5)" fill="#d41010" stroke="#850000" stroke-width="0.55"/><rect x="918.5" y="103.8" width="3.0" height="3.8" rx="1.3" transform="rotate(60.201 920.0 105.7)" fill="#d41010" stroke="#850000" stroke-width="0.55"/><rect x="931.3" y="98.9" width="10.0" height="3.8" rx="1.3" transform="rotate(67.9404 936.3 100.8)" fill="#d41010" stroke="#850000" stroke-width="0.55"/><rect x="849.1" y="114.2" width="6.0" height="3.8" rx="1.3" transform="rotate(94.7733 852.1 116.1)" fill="#d41010" stroke="#850000" stroke-width="0.55"/><rect x="876.4" y="107.9" width="6.0" height="3.8" rx="1.3" transform="rotate(69.2867 879.4 109.8)" fill="#d41010" stroke="#850000" stroke-width="0.55"/><rect x="937.2" y="115.4" width="10.0" height="3.8" rx="1.3" transform="rotate(59.8855 942.2 117.3)" fill="#d41010" stroke="#850000" stroke-width="0.55"/><rect x="927.3" y="117.2" width="2.5" height="3.8" rx="1.3" transform="rotate(57.1656 928.5 119.1)" fill="#d41010" stroke="#850000" stroke-width="0.55"/><rect x="918.1" y="105.9" width="2.5" height="3.8" rx="1.3" transform="rotate(56.1747 919.3 107.8)" fill="#d41010" stroke="#850000" stroke-width="0.55"/><rect x="899.4" y="94.7" width="9.0" height="3.8" rx="1.3" transform="rotate(71.1827 903.9 96.6)" fill="#d41010" stroke="#850000" stroke-width="0.55"/><rect x="880.7" y="114.8" width="12.0" height="3.8" rx="1.3" transform="rotate(114.662 886.7 116.7)" fill="#d41010" stroke="#850000" stroke-width="0.55"/><rect x="851.8" y="116.1" width="12.0" height="3.8" rx="1.3" transform="rotate(124.106 857.8 118.0)" fill="#d41010" stroke="#850000" stroke-width="0.55"/><rect x="844.2" y="128.3" width="20.0" height="3.8" rx="1.3" transform="rotate(52.948 854.2 130.2)" fill="#d41010" stroke="#850000" stroke-width="0.55"/><rect x="842.8" y="112.5" width="3.0" height="3.8" rx="1.3" transform="rotate(68.4744 844.3 114.4)" fill="#d41010" stroke="#850000" stroke-width="0.55"/><rect x="898.2" y="104.7" width="2.5" height="3.8" rx="1.3" transform="rotate(61.586 899.4 106.6)" fill="#d41010" stroke="#850000" stroke-width="0.55"/><rect x="904.6" y="116.3" width="2.5" height="3.8" rx="1.3" transform="rotate(86.8557 905.8 118.2)" fill="#d41010" stroke="#850000" stroke-width="0.55"/><rect x="831.4" y="103.8" width="5.0" height="3.8" rx="1.3" transform="rotate(57.6392 833.9 105.7)" fill="#d41010" stroke="#850000" stroke-width="0.55"/><rect x="890.8" y="129.1" width="2.5" height="3.8" rx="1.3" transform="rotate(97.7269 892.0 131.0)" fill="#d41010" stroke="#850000" stroke-width="0.55"/><rect x="903.2" y="119.0" width="6.0" height="3.8" rx="1.3" transform="rotate(123.854 906.2 120.9)" fill="#d41010" stroke="#850000" stroke-width="0.55"/><rect x="884.4" y="107.0" width="2.5" height="3.8" rx="1.3" transform="rotate(64.7237 885.7 108.9)" fill="#d41010" stroke="#850000" stroke-width="0.55"/><rect x="885.2" y="120.4" width="2.5" height="3.8" rx="1.3" transform="rotate(62.9219 886.5 122.3)" fill="#d41010" stroke="#850000" stroke-width="0.55"/><rect x="909.3" y="126.5" width="12.0" height="3.8" rx="1.3" transform="rotate(123.725 915.3 128.4)" fill="#d41010" stroke="#850000" stroke-width="0.55"/><rect x="863.3" y="118.8" width="17.0" height="3.8" rx="1.3" transform="rotate(84.4238 871.8 120.7)" fill="#d41010" stroke="#850000" stroke-width="0.55"/><rect x="884.5" y="94.6" width="8.0" height="3.8" rx="1.3" transform="rotate(119.133 888.5 96.5)" fill="#d41010" stroke="#850000" stroke-width="0.55"/><rect x="832.6" y="117.1" width="17.0" height="3.8" rx="1.3" transform="rotate(115.827 841.1 119.0)" fill="#d41010" stroke="#850000" stroke-width="0.55"/><rect x="910.6" y="115.0" width="9.0" height="3.8" rx="1.3" transform="rotate(67.0042 915.1 116.9)" fill="#d41010" stroke="#850000" stroke-width="0.55"/><rect x="832.4" y="115.7" width="6.0" height="3.8" rx="1.3" transform="rotate(85.5804 835.4 117.6)" fill="#d41010" stroke="#850000" stroke-width="0.55"/><rect x="917.6" y="117.9" width="5.0" height="3.8" rx="1.3" transform="rotate(54.8644 920.1 119.8)" fill="#d41010" stroke="#850000" stroke-width="0.55"/><rect x="894.1" y="112.8" width="14.0" height="3.8" rx="1.3" transform="rotate(116.629 901.1 114.7)" fill="#d41010" stroke="#850000" stroke-width="0.55"/><rect x="929.8" y="105.9" width="6.0" height="3.8" rx="1.3" transform="rotate(122.056 932.8 107.8)" fill="#d41010" stroke="#850000" stroke-width="0.55"/><rect x="916.0" y="101.3" width="2.5" height="3.8" rx="1.3" transform="rotate(114.747 917.3 103.2)" fill="#d41010" stroke="#850000" stroke-width="0.55"/><rect x="842.4" y="112.0" width="10.0" height="3.8" rx="1.3" transform="rotate(124.25 847.4 113.9)" fill="#d41010" stroke="#850000" stroke-width="0.55"/><rect x="859.8" y="100.2" width="7.0" height="3.8" rx="1.3" transform="rotate(95.6325 863.3 102.1)" fill="#d41010" stroke="#850000" stroke-width="0.55"/><rect x="870.7" y="112.8" width="9.0" height="3.8" rx="1.3" transform="rotate(53.4936 875.2 114.7)" fill="#d41010" stroke="#850000" stroke-width="0.55"/><rect x="834.1" y="125.5" width="3.0" height="3.8" rx="1.3" transform="rotate(114.635 835.6 127.4)" fill="#d41010" stroke="#850000" stroke-width="0.55"/><rect x="919.9" y="94.8" width="3.0" height="3.8" rx="1.3" transform="rotate(67.3843 921.4 96.7)" fill="#d41010" stroke="#850000" stroke-width="0.55"/><rect x="857.1" y="122.2" width="10.0" height="3.8" rx="1.3" transform="rotate(64.5993 862.1 124.1)" fill="#d41010" stroke="#850000" stroke-width="0.55"/><rect x="900.0" y="123.2" width="12.0" height="3.8" rx="1.3" transform="rotate(61.5028 906.0 125.1)" fill="#d41010" stroke="#850000" stroke-width="0.55"/><rect x="849.7" y="94.5" width="5.0" height="3.8" rx="1.3" transform="rotate(57.4471 852.2 96.4)" fill="#d41010" stroke="#850000" stroke-width="0.55"/><rect x="866.6" y="119.2" width="9.0" height="3.8" rx="1.3" transform="rotate(86.2287 871.1 121.1)" fill="#d41010" stroke="#850000" stroke-width="0.55"/><rect x="848.5" y="114.8" width="6.0" height="3.8" rx="1.3" transform="rotate(71.9324 851.5 116.7)" fill="#d41010" stroke="#850000" stroke-width="0.55"/><rect x="847.3" y="114.3" width="9.0" height="3.8" rx="1.3" transform="rotate(52.0333 851.8 116.2)" fill="#d41010" stroke="#850000" stroke-width="0.55"/><rect x="853.8" y="125.4" width="7.0" height="3.8" rx="1.3" transform="rotate(84.8235 857.3 127.3)" fill="#d41010" stroke="#850000" stroke-width="0.55"/><rect x="861.4" y="95.6" width="7.0" height="3.8" rx="1.3" transform="rotate(121.968 864.9 97.5)" fill="#d41010" stroke="#850000" stroke-width="0.55"/><rect x="826.4" y="123.4" width="20.0" height="3.8" rx="1.3" transform="rotate(71.789 836.4 125.3)" fill="#d41010" stroke="#850000" stroke-width="0.55"/><rect x="846.5" y="107.7" width="6.0" height="3.8" rx="1.3" transform="rotate(69.6406 849.5 109.6)" fill="#d41010" stroke="#850000" stroke-width="0.55"/><rect x="844.8" y="125.3" width="20.0" height="3.8" rx="1.3" transform="rotate(68.314 854.8 127.2)" fill="#d41010" stroke="#850000" stroke-width="0.55"/><rect x="844.6" y="106.9" width="8.0" height="3.8" rx="1.3" transform="rotate(118.117 848.6 108.8)" fill="#d41010" stroke="#850000" stroke-width="0.55"/><rect x="856.5" y="95.8" width="3.0" height="3.8" rx="1.3" transform="rotate(59.2626 858.0 97.7)" fill="#d41010" stroke="#850000" stroke-width="0.55"/><rect x="858.7" y="115.3" width="2.5" height="3.8" rx="1.3" transform="rotate(59.4253 859.9 117.2)" fill="#d41010" stroke="#850000" stroke-width="0.55"/><rect x="853.9" y="118.3" width="3.0" height="3.8" rx="1.3" transform="rotate(90.0222 855.4 120.2)" fill="#d41010" stroke="#850000" stroke-width="0.55"/><rect x="849.2" y="100.4" width="8.0" height="3.8" rx="1.3" transform="rotate(64.1458 853.2 102.3)" fill="#d41010" stroke="#850000" stroke-width="0.55"/><rect x="860.9" y="100.4" width="3.0" height="3.8" rx="1.3" transform="rotate(57.531 862.4 102.3)" fill="#d41010" stroke="#850000" stroke-width="0.55"/><rect x="844.9" y="114.1" width="3.0" height="3.8" rx="1.3" transform="rotate(58.7932 846.4 116.0)" fill="#d41010" stroke="#850000" stroke-width="0.55"/><rect x="844.8" y="116.1" width="12.0" height="3.8" rx="1.3" transform="rotate(86.3459 850.8 118.0)" fill="#d41010" stroke="#850000" stroke-width="0.55"/><rect x="867.8" y="105.1" width="2.5" height="3.8" rx="1.3" transform="rotate(84.0934 869.0 107.0)" fill="#d41010" stroke="#850000" stroke-width="0.55"/><rect x="842.2" y="118.5" width="2.5" height="3.8" rx="1.3" transform="rotate(117.521 843.5 120.4)" fill="#d41010" stroke="#850000" stroke-width="0.55"/><rect x="838.2" y="96.9" width="9.0" height="3.8" rx="1.3" transform="rotate(52.4782 842.7 98.8)" fill="#d41010" stroke="#850000" stroke-width="0.55"/><rect x="840.6" y="119.1" width="10.0" height="3.8" rx="1.3" transform="rotate(62.5447 845.6 121.0)" fill="#d41010" stroke="#850000" stroke-width="0.55"/><rect x="850.1" y="113.8" width="3.0" height="3.8" rx="1.3" transform="rotate(86.2701 851.6 115.7)" fill="#d41010" stroke="#850000" stroke-width="0.55"/><rect x="842.9" y="121.9" width="3.0" height="3.8" rx="1.3" transform="rotate(113.211 844.4 123.8)" fill="#d41010" stroke="#850000" stroke-width="0.55"/><rect x="841.6" y="101.5" width="5.0" height="3.8" rx="1.3" transform="rotate(69.7287 844.1 103.4)" fill="#d41010" stroke="#850000" stroke-width="0.55"/><rect x="902.0" y="140.1" width="6.0" height="3.8" rx="1.3" transform="rotate(119.993 905.0 142.0)" fill="#d41010" stroke="#850000" stroke-width="0.55"/><rect x="942.3" y="238.9" width="2.5" height="3.8" rx="1.3" transform="rotate(56.2782 943.6 240.8)" fill="#d41010" stroke="#850000" stroke-width="0.55"/><rect x="884.2" y="145.8" width="20.0" height="3.8" rx="1.3" transform="rotate(97.9017 894.2 147.7)" fill="#d41010" stroke="#850000" stroke-width="0.55"/><rect x="905.3" y="233.3" width="14.0" height="3.8" rx="1.3" transform="rotate(94.4265 912.3 235.2)" fill="#d41010" stroke="#850000" stroke-width="0.55"/><rect x="955.6" y="251.9" width="2.5" height="3.8" rx="1.3" transform="rotate(67.1001 956.9 253.8)" fill="#d41010" stroke="#850000" stroke-width="0.55"/><rect x="908.1" y="189.5" width="8.0" height="3.8" rx="1.3" transform="rotate(119.829 912.1 191.4)" fill="#d41010" stroke="#850000" stroke-width="0.55"/><rect x="902.6" y="154.1" width="7.0" height="3.8" rx="1.3" transform="rotate(118.313 906.1 156.0)" fill="#d41010" stroke="#850000" stroke-width="0.55"/><rect x="905.2" y="219.3" width="8.0" height="3.8" rx="1.3" transform="rotate(57.8662 909.2 221.2)" fill="#d41010" stroke="#850000" stroke-width="0.55"/><rect x="879.0" y="127.2" width="7.0" height="3.8" rx="1.3" transform="rotate(115.936 882.5 129.1)" fill="#d41010" stroke="#850000" stroke-width="0.55"/><rect x="885.0" y="119.3" width="2.5" height="3.8" rx="1.3" transform="rotate(93.8216 886.3 121.2)" fill="#d41010" stroke="#850000" stroke-width="0.55"/><rect x="879.2" y="119.3" width="8.0" height="3.8" rx="1.3" transform="rotate(66.3776 883.2 121.2)" fill="#d41010" stroke="#850000" stroke-width="0.55"/><rect x="915.3" y="249.2" width="3.0" height="3.8" rx="1.3" transform="rotate(112.396 916.8 251.1)" fill="#d41010" stroke="#850000" stroke-width="0.55"/><rect x="917.9" y="165.1" width="14.0" height="3.8" rx="1.3" transform="rotate(69.0731 924.9 167.0)" fill="#d41010" stroke="#850000" stroke-width="0.55"/><rect x="913.1" y="158.8" width="2.5" height="3.8" rx="1.3" transform="rotate(113.176 914.4 160.7)" fill="#d41010" stroke="#850000" stroke-width="0.55"/><rect x="920.1" y="198.1" width="7.0" height="3.8" rx="1.3" transform="rotate(118.548 923.6 200.0)" fill="#d41010" stroke="#850000" stroke-width="0.55"/><rect x="864.2" y="127.6" width="20.0" height="3.8" rx="1.3" transform="rotate(56.5111 874.2 129.5)" fill="#d41010" stroke="#850000" stroke-width="0.55"/><rect x="885.6" y="109.3" width="9.0" height="3.8" rx="1.3" transform="rotate(124.567 890.1 111.2)" fill="#d41010" stroke="#850000" stroke-width="0.55"/><rect x="937.8" y="231.8" width="6.0" height="3.8" rx="1.3" transform="rotate(85.7012 940.8 233.7)" fill="#d41010" stroke="#850000" stroke-width="0.55"/><rect x="883.7" y="146.9" width="5.0" height="3.8" rx="1.3" transform="rotate(91.3083 886.2 148.8)" fill="#d41010" stroke="#850000" stroke-width="0.55"/><rect x="909.7" y="236.1" width="2.5" height="3.8" rx="1.3" transform="rotate(71.3957 910.9 238.0)" fill="#d41010" stroke="#850000" stroke-width="0.55"/><rect x="907.8" y="181.8" width="7.0" height="3.8" rx="1.3" transform="rotate(115.643 911.3 183.7)" fill="#d41010" stroke="#850000" stroke-width="0.55"/><rect x="906.5" y="213.8" width="3.0" height="3.8" rx="1.3" transform="rotate(122.737 908.0 215.7)" fill="#d41010" stroke="#850000" stroke-width="0.55"/><rect x="896.9" y="140.0" width="6.0" height="3.8" rx="1.3" transform="rotate(116.418 899.9 141.9)" fill="#d41010" stroke="#850000" stroke-width="0.55"/><rect x="915.5" y="201.9" width="3.0" height="3.8" rx="1.3" transform="rotate(67.1629 917.0 203.8)" fill="#d41010" stroke="#850000" stroke-width="0.55"/><rect x="886.4" y="195.3" width="12.0" height="3.8" rx="1.3" transform="rotate(71.83 892.4 197.2)" fill="#d41010" stroke="#850000" stroke-width="0.55"/><rect x="878.3" y="161.2" width="6.0" height="3.8" rx="1.3" transform="rotate(53.052 881.3 163.1)" fill="#d41010" stroke="#850000" stroke-width="0.55"/><rect x="883.3" y="157.8" width="3.0" height="3.8" rx="1.3" transform="rotate(58.9519 884.8 159.7)" fill="#d41010" stroke="#850000" stroke-width="0.55"/><rect x="879.7" y="114.2" width="9.0" height="3.8" rx="1.3" transform="rotate(84.6101 884.2 116.1)" fill="#d41010" stroke="#850000" stroke-width="0.55"/><rect x="887.6" y="184.8" width="14.0" height="3.8" rx="1.3" transform="rotate(69.744 894.6 186.7)" fill="#d41010" stroke="#850000" stroke-width="0.55"/><rect x="942.5" y="217.9" width="12.0" height="3.8" rx="1.3" transform="rotate(70.6376 948.5 219.8)" fill="#d41010" stroke="#850000" stroke-width="0.55"/><rect x="865.4" y="109.5" width="10.0" height="3.8" rx="1.3" transform="rotate(119.999 870.4 111.4)" fill="#d41010" stroke="#850000" stroke-width="0.55"/><rect x="933.2" y="249.6" width="17.0" height="3.8" rx="1.3" transform="rotate(59.8617 941.7 251.5)" fill="#d41010" stroke="#850000" stroke-width="0.55"/><rect x="882.8" y="106.9" width="2.5" height="3.8" rx="1.3" transform="rotate(94.6399 884.1 108.8)" fill="#d41010" stroke="#850000" stroke-width="0.55"/><rect x="896.0" y="158.2" width="3.0" height="3.8" rx="1.3" transform="rotate(59.4535 897.5 160.1)" fill="#d41010" stroke="#850000" stroke-width="0.55"/><rect x="921.6" y="249.0" width="3.0" height="3.8" rx="1.3" transform="rotate(97.9948 923.1 250.9)" fill="#d41010" stroke="#850000" stroke-width="0.55"/><rect x="924.8" y="229.2" width="7.0" height="3.8" rx="1.3" transform="rotate(84.571 928.3 231.1)" fill="#d41010" stroke="#850000" stroke-width="0.55"/><rect x="875.4" y="113.4" width="8.0" height="3.8" rx="1.3" transform="rotate(67.6965 879.4 115.3)" fill="#d41010" stroke="#850000" stroke-width="0.55"/><rect x="880.9" y="171.0" width="3.0" height="3.8" rx="1.3" transform="rotate(56.5273 882.4 172.9)" fill="#d41010" stroke="#850000" stroke-width="0.55"/><rect x="961.1" y="258.8" width="14.0" height="3.8" rx="1.3" transform="rotate(71.8649 968.1 260.7)" fill="#d41010" stroke="#850000" stroke-width="0.55"/><rect x="926.7" y="221.5" width="3.0" height="3.8" rx="1.3" transform="rotate(124.37 928.2 223.4)" fill="#d41010" stroke="#850000" stroke-width="0.55"/><rect x="916.9" y="173.1" width="12.0" height="3.8" rx="1.3" transform="rotate(70.1143 922.9 175.0)" fill="#d41010" stroke="#850000" stroke-width="0.55"/><rect x="909.1" y="176.2" width="2.5" height="3.8" rx="1.3" transform="rotate(114.609 910.3 178.1)" fill="#d41010" stroke="#850000" stroke-width="0.55"/><rect x="934.6" y="241.5" width="5.0" height="3.8" rx="1.3" transform="rotate(66.9069 937.1 243.4)" fill="#d41010" stroke="#850000" stroke-width="0.55"/><rect x="912.8" y="203.2" width="10.0" height="3.8" rx="1.3" transform="rotate(120.217 917.8 205.1)" fill="#d41010" stroke="#850000" stroke-width="0.55"/><rect x="899.7" y="146.4" width="9.0" height="3.8" rx="1.3" transform="rotate(67.0169 904.2 148.3)" fill="#d41010" stroke="#850000" stroke-width="0.55"/><rect x="866.7" y="134.7" width="3.0" height="3.8" rx="1.3" transform="rotate(52.1918 868.2 136.6)" fill="#d41010" stroke="#850000" stroke-width="0.55"/><rect x="920.4" y="170.9" width="2.5" height="3.8" rx="1.3" transform="rotate(117.869 921.6 172.8)" fill="#d41010" stroke="#850000" stroke-width="0.55"/><rect x="928.2" y="258.9" width="5.0" height="3.8" rx="1.3" transform="rotate(70.2832 930.7 260.8)" fill="#d41010" stroke="#850000" stroke-width="0.55"/><rect x="949.9" y="249.1" width="14.0" height="3.8" rx="1.3" transform="rotate(120.008 956.9 251.0)" fill="#d41010" stroke="#850000" stroke-width="0.55"/><rect x="903.7" y="193.8" width="2.5" height="3.8" rx="1.3" transform="rotate(110.847 905.0 195.7)" fill="#d41010" stroke="#850000" stroke-width="0.55"/><rect x="922.7" y="202.1" width="8.0" height="3.8" rx="1.3" transform="rotate(89.3355 926.7 204.0)" fill="#d41010" stroke="#850000" stroke-width="0.55"/><rect x="928.5" y="230.1" width="8.0" height="3.8" rx="1.3" transform="rotate(69.1824 932.5 232.0)" fill="#d41010" stroke="#850000" stroke-width="0.55"/><rect x="899.4" y="183.5" width="5.0" height="3.8" rx="1.3" transform="rotate(93.5709 901.9 185.4)" fill="#d41010" stroke="#850000" stroke-width="0.55"/><rect x="877.2" y="158.9" width="8.0" height="3.8" rx="1.3" transform="rotate(70.5618 881.2 160.8)" fill="#d41010" stroke="#850000" stroke-width="0.55"/><rect x="886.8" y="102.4" width="8.0" height="3.8" rx="1.3" transform="rotate(121.246 890.8 104.3)" fill="#d41010" stroke="#850000" stroke-width="0.55"/><rect x="867.1" y="111.0" width="3.0" height="3.8" rx="1.3" transform="rotate(95.7619 868.6 112.9)" fill="#d41010" stroke="#850000" stroke-width="0.55"/><rect x="907.5" y="184.1" width="5.0" height="3.8" rx="1.3" transform="rotate(71.4869 910.0 186.0)" fill="#d41010" stroke="#850000" stroke-width="0.55"/><rect x="862.6" y="112.5" width="2.5" height="3.8" rx="1.3" transform="rotate(119.419 863.8 114.4)" fill="#d41010" stroke="#850000" stroke-width="0.55"/><rect x="923.3" y="148.9" width="2.5" height="3.8" rx="1.3" transform="rotate(56.6285 924.6 150.8)" fill="#d41010" stroke="#850000" stroke-width="0.55"/><rect x="931.8" y="189.7" width="8.0" height="3.8" rx="1.3" transform="rotate(121.957 935.8 191.6)" fill="#d41010" stroke="#850000" stroke-width="0.55"/><rect x="916.0" y="236.3" width="2.5" height="3.8" rx="1.3" transform="rotate(62.4196 917.2 238.2)" fill="#d41010" stroke="#850000" stroke-width="0.55"/><rect x="904.9" y="224.8" width="17.0" height="3.8" rx="1.3" transform="rotate(57.9487 913.4 226.7)" fill="#d41010" stroke="#850000" stroke-width="0.55"/><rect x="903.0" y="140.6" width="17.0" height="3.8" rx="1.3" transform="rotate(87.9225 911.5 142.5)" fill="#d41010" stroke="#850000" stroke-width="0.55"/><rect x="902.0" y="214.0" width="6.0" height="3.8" rx="1.3" transform="rotate(54.3878 905.0 215.9)" fill="#d41010" stroke="#850000" stroke-width="0.55"/><rect x="900.2" y="220.0" width="20.0" height="3.8" rx="1.3" transform="rotate(54.0641 910.2 221.9)" fill="#d41010" stroke="#850000" stroke-width="0.55"/><rect x="877.0" y="169.6" width="20.0" height="3.8" rx="1.3" transform="rotate(54.7364 887.0 171.5)" fill="#d41010" stroke="#850000" stroke-width="0.55"/><rect x="903.9" y="175.5" width="10.0" height="3.8" rx="1.3" transform="rotate(69.7376 908.9 177.4)" fill="#d41010" stroke="#850000" stroke-width="0.55"/><rect x="856.2" y="112.4" width="14.0" height="3.8" rx="1.3" transform="rotate(60.4279 863.2 114.3)" fill="#d41010" stroke="#850000" stroke-width="0.55"/><rect x="858.4" y="120.7" width="6.0" height="3.8" rx="1.3" transform="rotate(60.5715 861.4 122.6)" fill="#d41010" stroke="#850000" stroke-width="0.55"/><rect x="898.3" y="168.8" width="3.0" height="3.8" rx="1.3" transform="rotate(111.604 899.8 170.7)" fill="#d41010" stroke="#850000" stroke-width="0.55"/><rect x="928.5" y="218.3" width="5.0" height="3.8" rx="1.3" transform="rotate(118.989 931.0 220.2)" fill="#d41010" stroke="#850000" stroke-width="0.55"/><rect x="926.2" y="222.8" width="6.0" height="3.8" rx="1.3" transform="rotate(115.647 929.2 224.7)" fill="#d41010" stroke="#850000" stroke-width="0.55"/><rect x="892.9" y="101.4" width="3.0" height="3.8" rx="1.3" transform="rotate(53.6077 894.4 103.3)" fill="#d41010" stroke="#850000" stroke-width="0.55"/><rect x="867.0" y="137.4" width="20.0" height="3.8" rx="1.3" transform="rotate(61.2272 877.0 139.3)" fill="#d41010" stroke="#850000" stroke-width="0.55"/><rect x="899.2" y="114.8" width="8.0" height="3.8" rx="1.3" transform="rotate(123.364 903.2 116.7)" fill="#d41010" stroke="#850000" stroke-width="0.55"/><rect x="917.0" y="188.5" width="2.5" height="3.8" rx="1.3" transform="rotate(84.6261 918.3 190.4)" fill="#d41010" stroke="#850000" stroke-width="0.55"/><rect x="886.4" y="142.3" width="12.0" height="3.8" rx="1.3" transform="rotate(116.884 892.4 144.2)" fill="#d41010" stroke="#850000" stroke-width="0.55"/><rect x="908.7" y="235.5" width="17.0" height="3.8" rx="1.3" transform="rotate(115.899 917.2 237.4)" fill="#d41010" stroke="#850000" stroke-width="0.55"/><rect x="886.7" y="161.4" width="6.0" height="3.8" rx="1.3" transform="rotate(116.344 889.7 163.3)" fill="#d41010" stroke="#850000" stroke-width="0.55"/><rect x="886.5" y="104.4" width="9.0" height="3.8" rx="1.3" transform="rotate(70.319 891.0 106.3)" fill="#d41010" stroke="#850000" stroke-width="0.55"/><rect x="926.8" y="179.8" width="8.0" height="3.8" rx="1.3" transform="rotate(92.2157 930.8 181.7)" fill="#d41010" stroke="#850000" stroke-width="0.55"/><rect x="926.2" y="170.6" width="9.0" height="3.8" rx="1.3" transform="rotate(66.2185 930.7 172.5)" fill="#d41010" stroke="#850000" stroke-width="0.55"/><rect x="889.0" y="177.3" width="10.0" height="3.8" rx="1.3" transform="rotate(70.7037 894.0 179.2)" fill="#d41010" stroke="#850000" stroke-width="0.55"/><rect x="933.3" y="239.1" width="2.5" height="3.8" rx="1.3" transform="rotate(66.6187 934.5 241.0)" fill="#d41010" stroke="#850000" stroke-width="0.55"/><rect x="934.3" y="179.0" width="2.5" height="3.8" rx="1.3" transform="rotate(53.3339 935.6 180.9)" fill="#d41010" stroke="#850000" stroke-width="0.55"/><rect x="886.6" y="125.5" width="3.0" height="3.8" rx="1.3" transform="rotate(66.3431 888.1 127.4)" fill="#d41010" stroke="#850000" stroke-width="0.55"/><rect x="895.9" y="109.1" width="2.5" height="3.8" rx="1.3" transform="rotate(65.9446 897.1 111.0)" fill="#d41010" stroke="#850000" stroke-width="0.55"/><rect x="903.9" y="129.2" width="17.0" height="3.8" rx="1.3" transform="rotate(120.792 912.4 131.1)" fill="#d41010" stroke="#850000" stroke-width="0.55"/><rect x="940.7" y="242.0" width="12.0" height="3.8" rx="1.3" transform="rotate(64.0044 946.7 243.9)" fill="#d41010" stroke="#850000" stroke-width="0.55"/><rect x="939.3" y="222.4" width="20.0" height="3.8" rx="1.3" transform="rotate(67.7436 949.3 224.3)" fill="#d41010" stroke="#850000" stroke-width="0.55"/><rect x="927.9" y="213.3" width="3.0" height="3.8" rx="1.3" transform="rotate(55.3917 929.4 215.2)" fill="#d41010" stroke="#850000" stroke-width="0.55"/><rect x="904.7" y="198.3" width="3.0" height="3.8" rx="1.3" transform="rotate(110.097 906.2 200.2)" fill="#d41010" stroke="#850000" stroke-width="0.55"/><rect x="921.0" y="221.9" width="12.0" height="3.8" rx="1.3" transform="rotate(66.3951 927.0 223.8)" fill="#d41010" stroke="#850000" stroke-width="0.55"/><rect x="893.2" y="173.3" width="2.5" height="3.8" rx="1.3" transform="rotate(123.808 894.4 175.2)" fill="#d41010" stroke="#850000" stroke-width="0.55"/><rect x="872.7" y="118.8" width="10.0" height="3.8" rx="1.3" transform="rotate(114.067 877.7 120.7)" fill="#d41010" stroke="#850000" stroke-width="0.55"/><rect x="904.5" y="120.5" width="5.0" height="3.8" rx="1.3" transform="rotate(85.0582 907.0 122.4)" fill="#d41010" stroke="#850000" stroke-width="0.55"/><rect x="913.2" y="249.9" width="12.0" height="3.8" rx="1.3" transform="rotate(117.29 919.2 251.8)" fill="#d41010" stroke="#850000" stroke-width="0.55"/><rect x="919.0" y="190.7" width="2.5" height="3.8" rx="1.3" transform="rotate(88.7574 920.2 192.6)" fill="#d41010" stroke="#850000" stroke-width="0.55"/><rect x="910.8" y="217.5" width="17.0" height="3.8" rx="1.3" transform="rotate(96.2334 919.3 219.4)" fill="#d41010" stroke="#850000" stroke-width="0.55"/><rect x="940.1" y="194.5" width="2.5" height="3.8" rx="1.3" transform="rotate(63.6635 941.3 196.4)" fill="#d41010" stroke="#850000" stroke-width="0.55"/><rect x="904.4" y="209.4" width="17.0" height="3.8" rx="1.3" transform="rotate(90.9562 912.9 211.3)" fill="#d41010" stroke="#850000" stroke-width="0.55"/><rect x="885.6" y="114.9" width="2.5" height="3.8" rx="1.3" transform="rotate(71.4918 886.8 116.8)" fill="#d41010" stroke="#850000" stroke-width="0.55"/><rect x="916.7" y="174.6" width="5.0" height="3.8" rx="1.3" transform="rotate(58.1153 919.2 176.5)" fill="#d41010" stroke="#850000" stroke-width="0.55"/><rect x="922.8" y="202.0" width="7.0" height="3.8" rx="1.3" transform="rotate(70.9225 926.3 203.9)" fill="#d41010" stroke="#850000" stroke-width="0.55"/><rect x="860.5" y="101.5" width="3.0" height="3.8" rx="1.3" transform="rotate(121.149 862.0 103.4)" fill="#d41010" stroke="#850000" stroke-width="0.55"/><rect x="926.7" y="167.7" width="3.0" height="3.8" rx="1.3" transform="rotate(55.0718 928.2 169.6)" fill="#d41010" stroke="#850000" stroke-width="0.55"/><rect x="939.3" y="219.8" width="6.0" height="3.8" rx="1.3" transform="rotate(66.4615 942.3 221.7)" fill="#d41010" stroke="#850000" stroke-width="0.55"/><rect x="884.1" y="175.9" width="2.5" height="3.8" rx="1.3" transform="rotate(56.3948 885.4 177.8)" fill="#d41010" stroke="#850000" stroke-width="0.55"/><rect x="912.3" y="155.8" width="20.0" height="3.8" rx="1.3" transform="rotate(110.173 922.3 157.7)" fill="#d41010" stroke="#850000" stroke-width="0.55"/><rect x="906.4" y="217.7" width="10.0" height="3.8" rx="1.3" transform="rotate(120.976 911.4 219.6)" fill="#d41010" stroke="#850000" stroke-width="0.55"/><rect x="879.4" y="120.5" width="7.0" height="3.8" rx="1.3" transform="rotate(57.1115 882.9 122.4)" fill="#d41010" stroke="#850000" stroke-width="0.55"/><rect x="911.7" y="210.3" width="3.0" height="3.8" rx="1.3" transform="rotate(69.8749 913.2 212.2)" fill="#d41010" stroke="#850000" stroke-width="0.55"/><rect x="868.5" y="115.2" width="2.5" height="3.8" rx="1.3" transform="rotate(124.547 869.8 117.1)" fill="#d41010" stroke="#850000" stroke-width="0.55"/><rect x="884.6" y="154.2" width="7.0" height="3.8" rx="1.3" transform="rotate(65.626 888.1 156.1)" fill="#d41010" stroke="#850000" stroke-width="0.55"/><rect x="936.9" y="254.3" width="8.0" height="3.8" rx="1.3" transform="rotate(63.3502 940.9 256.2)" fill="#d41010" stroke="#850000" stroke-width="0.55"/><rect x="891.1" y="180.4" width="17.0" height="3.8" rx="1.3" transform="rotate(53.3598 899.6 182.3)" fill="#d41010" stroke="#850000" stroke-width="0.55"/><rect x="901.0" y="121.6" width="9.0" height="3.8" rx="1.3" transform="rotate(58.6503 905.5 123.5)" fill="#d41010" stroke="#850000" stroke-width="0.55"/><rect x="917.4" y="165.8" width="17.0" height="3.8" rx="1.3" transform="rotate(85.5042 925.9 167.7)" fill="#d41010" stroke="#850000" stroke-width="0.55"/><rect x="903.3" y="132.7" width="20.0" height="3.8" rx="1.3" transform="rotate(66.3692 913.3 134.6)" fill="#d41010" stroke="#850000" stroke-width="0.55"/><rect x="900.4" y="118.2" width="8.0" height="3.8" rx="1.3" transform="rotate(122.999 904.4 120.1)" fill="#d41010" stroke="#850000" stroke-width="0.55"/><rect x="881.3" y="163.4" width="3.0" height="3.8" rx="1.3" transform="rotate(68.5118 882.8 165.3)" fill="#d41010" stroke="#850000" stroke-width="0.55"/><rect x="931.8" y="231.6" width="2.5" height="3.8" rx="1.3" transform="rotate(57.7461 933.1 233.5)" fill="#d41010" stroke="#850000" stroke-width="0.55"/><rect x="918.3" y="152.7" width="2.5" height="3.8" rx="1.3" transform="rotate(70.7397 919.5 154.6)" fill="#d41010" stroke="#850000" stroke-width="0.55"/><rect x="946.1" y="221.1" width="14.0" height="3.8" rx="1.3" transform="rotate(96.0725 953.1 223.0)" fill="#d41010" stroke="#850000" stroke-width="0.55"/><rect x="899.8" y="157.3" width="3.0" height="3.8" rx="1.3" transform="rotate(59.0272 901.3 159.2)" fill="#d41010" stroke="#850000" stroke-width="0.55"/><rect x="879.6" y="165.4" width="2.5" height="3.8" rx="1.3" transform="rotate(95.1009 880.8 167.3)" fill="#d41010" stroke="#850000" stroke-width="0.55"/><rect x="908.0" y="235.3" width="2.5" height="3.8" rx="1.3" transform="rotate(56.0687 909.2 237.2)" fill="#d41010" stroke="#850000" stroke-width="0.55"/><rect x="945.9" y="221.1" width="14.0" height="3.8" rx="1.3" transform="rotate(67.8276 952.9 223.0)" fill="#d41010" stroke="#850000" stroke-width="0.55"/><rect x="889.4" y="183.2" width="8.0" height="3.8" rx="1.3" transform="rotate(84.7581 893.4 185.1)" fill="#d41010" stroke="#850000" stroke-width="0.55"/><rect x="914.4" y="249.4" width="7.0" height="3.8" rx="1.3" transform="rotate(70.086 917.9 251.3)" fill="#d41010" stroke="#850000" stroke-width="0.55"/><rect x="912.0" y="175.8" width="7.0" height="3.8" rx="1.3" transform="rotate(116.636 915.5 177.7)" fill="#d41010" stroke="#850000" stroke-width="0.55"/><rect x="906.6" y="157.3" width="20.0" height="3.8" rx="1.3" transform="rotate(61.3684 916.6 159.2)" fill="#d41010" stroke="#850000" stroke-width="0.55"/><rect x="943.0" y="246.6" width="17.0" height="3.8" rx="1.3" transform="rotate(70.4623 951.5 248.5)" fill="#d41010" stroke="#850000" stroke-width="0.55"/><rect x="891.9" y="187.6" width="3.0" height="3.8" rx="1.3" transform="rotate(91.5286 893.4 189.5)" fill="#d41010" stroke="#850000" stroke-width="0.55"/><rect x="949.0" y="231.2" width="2.5" height="3.8" rx="1.3" transform="rotate(64.9908 950.3 233.1)" fill="#d41010" stroke="#850000" stroke-width="0.55"/><rect x="888.5" y="149.7" width="6.0" height="3.8" rx="1.3" transform="rotate(57.1155 891.5 151.6)" fill="#d41010" stroke="#850000" stroke-width="0.55"/><rect x="904.7" y="206.2" width="3.0" height="3.8" rx="1.3" transform="rotate(70.1785 906.2 208.1)" fill="#d41010" stroke="#850000" stroke-width="0.55"/><rect x="898.0" y="163.8" width="3.0" height="3.8" rx="1.3" transform="rotate(64.6546 899.5 165.7)" fill="#d41010" stroke="#850000" stroke-width="0.55"/><rect x="885.3" y="186.6" width="7.0" height="3.8" rx="1.3" transform="rotate(65.034 888.8 188.5)" fill="#d41010" stroke="#850000" stroke-width="0.55"/><rect x="881.9" y="151.2" width="2.5" height="3.8" rx="1.3" transform="rotate(89.3463 883.2 153.1)" fill="#d41010" stroke="#850000" stroke-width="0.55"/><rect x="904.0" y="192.6" width="10.0" height="3.8" rx="1.3" transform="rotate(93.6164 909.0 194.5)" fill="#d41010" stroke="#850000" stroke-width="0.55"/><rect x="885.9" y="150.1" width="6.0" height="3.8" rx="1.3" transform="rotate(94.4581 888.9 152.0)" fill="#d41010" stroke="#850000" stroke-width="0.55"/><rect x="899.0" y="183.9" width="2.5" height="3.8" rx="1.3" transform="rotate(57.6265 900.3 185.8)" fill="#d41010" stroke="#850000" stroke-width="0.55"/><rect x="874.3" y="163.0" width="14.0" height="3.8" rx="1.3" transform="rotate(52.5599 881.3 164.9)" fill="#d41010" stroke="#850000" stroke-width="0.55"/><rect x="890.7" y="206.7" width="5.0" height="3.8" rx="1.3" transform="rotate(71.4755 893.2 208.6)" fill="#d41010" stroke="#850000" stroke-width="0.55"/><rect x="884.0" y="155.3" width="3.0" height="3.8" rx="1.3" transform="rotate(63.9089 885.5 157.2)" fill="#d41010" stroke="#850000" stroke-width="0.55"/><rect x="884.3" y="148.6" width="3.0" height="3.8" rx="1.3" transform="rotate(54.8659 885.8 150.5)" fill="#d41010" stroke="#850000" stroke-width="0.55"/><rect x="901.8" y="203.4" width="3.0" height="3.8" rx="1.3" transform="rotate(89.9235 903.3 205.3)" fill="#d41010" stroke="#850000" stroke-width="0.55"/><rect x="887.4" y="171.4" width="14.0" height="3.8" rx="1.3" transform="rotate(62.6015 894.4 173.3)" fill="#d41010" stroke="#850000" stroke-width="0.55"/><rect x="881.5" y="144.0" width="10.0" height="3.8" rx="1.3" transform="rotate(52.6956 886.5 145.9)" fill="#d41010" stroke="#850000" stroke-width="0.55"/><rect x="899.9" y="168.2" width="7.0" height="3.8" rx="1.3" transform="rotate(68.0923 903.4 170.1)" fill="#d41010" stroke="#850000" stroke-width="0.55"/><rect x="893.5" y="229.2" width="12.0" height="3.8" rx="1.3" transform="rotate(57.0057 899.5 231.1)" fill="#d41010" stroke="#850000" stroke-width="0.55"/><rect x="887.4" y="185.2" width="3.0" height="3.8" rx="1.3" transform="rotate(67.2318 888.9 187.1)" fill="#d41010" stroke="#850000" stroke-width="0.55"/><rect x="891.7" y="173.3" width="6.0" height="3.8" rx="1.3" transform="rotate(68.8279 894.7 175.2)" fill="#d41010" stroke="#850000" stroke-width="0.55"/><rect x="880.4" y="173.1" width="20.0" height="3.8" rx="1.3" transform="rotate(123.648 890.4 175.0)" fill="#d41010" stroke="#850000" stroke-width="0.55"/><rect x="905.6" y="184.0" width="3.0" height="3.8" rx="1.3" transform="rotate(58.7887 907.1 185.9)" fill="#d41010" stroke="#850000" stroke-width="0.55"/><rect x="879.8" y="163.7" width="2.5" height="3.8" rx="1.3" transform="rotate(61.7406 881.0 165.6)" fill="#d41010" stroke="#850000" stroke-width="0.55"/><rect x="895.4" y="151.4" width="2.5" height="3.8" rx="1.3" transform="rotate(59.372 896.7 153.3)" fill="#d41010" stroke="#850000" stroke-width="0.55"/><rect x="884.5" y="178.4" width="2.5" height="3.8" rx="1.3" transform="rotate(86.4066 885.7 180.3)" fill="#d41010" stroke="#850000" stroke-width="0.55"/><rect x="887.2" y="141.6" width="14.0" height="3.8" rx="1.3" transform="rotate(92.3363 894.2 143.5)" fill="#d41010" stroke="#850000" stroke-width="0.55"/><rect x="905.5" y="214.2" width="8.0" height="3.8" rx="1.3" transform="rotate(61.3972 909.5 216.1)" fill="#d41010" stroke="#850000" stroke-width="0.55"/><rect x="914.8" y="224.1" width="2.5" height="3.8" rx="1.3" transform="rotate(84.9604 916.1 226.0)" fill="#d41010" stroke="#850000" stroke-width="0.55"/><rect x="894.5" y="215.7" width="2.5" height="3.8" rx="1.3" transform="rotate(67.8755 895.8 217.6)" fill="#d41010" stroke="#850000" stroke-width="0.55"/><rect x="878.4" y="167.6" width="9.0" height="3.8" rx="1.3" transform="rotate(69.6736 882.9 169.5)" fill="#d41010" stroke="#850000" stroke-width="0.55"/><rect x="899.5" y="182.3" width="10.0" height="3.8" rx="1.3" transform="rotate(71.4286 904.5 184.2)" fill="#d41010" stroke="#850000" stroke-width="0.55"/><rect x="990.2" y="101.6" width="12.0" height="3.8" rx="1.3" transform="rotate(87.3453 996.2 103.5)" fill="#d41010" stroke="#850000" stroke-width="0.55"/><rect x="946.4" y="204.7" width="3.0" height="3.8" rx="1.3" transform="rotate(58.7616 947.9 206.6)" fill="#d41010" stroke="#850000" stroke-width="0.55"/><rect x="981.3" y="136.6" width="2.5" height="3.8" rx="1.3" transform="rotate(86.8891 982.5 138.5)" fill="#d41010" stroke="#850000" stroke-width="0.55"/><rect x="962.3" y="140.8" width="3.0" height="3.8" rx="1.3" transform="rotate(61.1107 963.8 142.7)" fill="#d41010" stroke="#850000" stroke-width="0.55"/><rect x="963.8" y="110.4" width="7.0" height="3.8" rx="1.3" transform="rotate(58.3031 967.3 112.3)" fill="#d41010" stroke="#850000" stroke-width="0.55"/><rect x="976.8" y="158.7" width="10.0" height="3.8" rx="1.3" transform="rotate(70.9005 981.8 160.6)" fill="#d41010" stroke="#850000" stroke-width="0.55"/><rect x="944.7" y="118.3" width="2.5" height="3.8" rx="1.3" transform="rotate(61.8997 946.0 120.2)" fill="#d41010" stroke="#850000" stroke-width="0.55"/><rect x="990.8" y="113.1" width="2.5" height="3.8" rx="1.3" transform="rotate(66.5111 992.0 115.0)" fill="#d41010" stroke="#850000" stroke-width="0.55"/><rect x="987.8" y="138.6" width="12.0" height="3.8" rx="1.3" transform="rotate(70.9627 993.8 140.5)" fill="#d41010" stroke="#850000" stroke-width="0.55"/><rect x="962.3" y="130.7" width="3.0" height="3.8" rx="1.3" transform="rotate(61.5309 963.8 132.6)" fill="#d41010" stroke="#850000" stroke-width="0.55"/><rect x="984.1" y="201.7" width="14.0" height="3.8" rx="1.3" transform="rotate(54.308 991.1 203.6)" fill="#d41010" stroke="#850000" stroke-width="0.55"/><rect x="966.1" y="149.0" width="10.0" height="3.8" rx="1.3" transform="rotate(52.8276 971.1 150.9)" fill="#d41010" stroke="#850000" stroke-width="0.55"/><rect x="990.9" y="222.9" width="3.0" height="3.8" rx="1.3" transform="rotate(123.087 992.4 224.8)" fill="#d41010" stroke="#850000" stroke-width="0.55"/><rect x="968.9" y="165.1" width="5.0" height="3.8" rx="1.3" transform="rotate(116.934 971.4 167.0)" fill="#d41010" stroke="#850000" stroke-width="0.55"/><rect x="982.7" y="177.2" width="7.0" height="3.8" rx="1.3" transform="rotate(119.162 986.2 179.1)" fill="#d41010" stroke="#850000" stroke-width="0.55"/><rect x="939.5" y="198.1" width="17.0" height="3.8" rx="1.3" transform="rotate(64.3711 948.0 200.0)" fill="#d41010" stroke="#850000" stroke-width="0.55"/><rect x="981.1" y="177.5" width="2.5" height="3.8" rx="1.3" transform="rotate(96.509 982.4 179.4)" fill="#d41010" stroke="#850000" stroke-width="0.55"/><rect x="988.8" y="102.1" width="7.0" height="3.8" rx="1.3" transform="rotate(123.631 992.3 104.0)" fill="#d41010" stroke="#850000" stroke-width="0.55"/><rect x="940.6" y="132.7" width="9.0" height="3.8" rx="1.3" transform="rotate(70.2601 945.1 134.6)" fill="#d41010" stroke="#850000" stroke-width="0.55"/><rect x="979.8" y="141.0" width="3.0" height="3.8" rx="1.3" transform="rotate(115.101 981.3 142.9)" fill="#d41010" stroke="#850000" stroke-width="0.55"/><rect x="943.1" y="122.5" width="10.0" height="3.8" rx="1.3" transform="rotate(94.1328 948.1 124.4)" fill="#d41010" stroke="#850000" stroke-width="0.55"/><rect x="959.2" y="213.8" width="14.0" height="3.8" rx="1.3" transform="rotate(58.8721 966.2 215.7)" fill="#d41010" stroke="#850000" stroke-width="0.55"/><rect x="981.6" y="171.3" width="5.0" height="3.8" rx="1.3" transform="rotate(67.7627 984.1 173.2)" fill="#d41010" stroke="#850000" stroke-width="0.55"/><rect x="943.7" y="201.9" width="3.0" height="3.8" rx="1.3" transform="rotate(93.1805 945.2 203.8)" fill="#d41010" stroke="#850000" stroke-width="0.55"/><rect x="968.7" y="171.6" width="14.0" height="3.8" rx="1.3" transform="rotate(71.6033 975.7 173.5)" fill="#d41010" stroke="#850000" stroke-width="0.55"/><rect x="970.8" y="181.8" width="17.0" height="3.8" rx="1.3" transform="rotate(122.458 979.3 183.7)" fill="#d41010" stroke="#850000" stroke-width="0.55"/><rect x="976.8" y="219.7" width="9.0" height="3.8" rx="1.3" transform="rotate(93.2707 981.3 221.6)" fill="#d41010" stroke="#850000" stroke-width="0.55"/><rect x="965.1" y="135.5" width="3.0" height="3.8" rx="1.3" transform="rotate(55.7344 966.6 137.4)" fill="#d41010" stroke="#850000" stroke-width="0.55"/><rect x="966.7" y="229.5" width="6.0" height="3.8" rx="1.3" transform="rotate(64.9223 969.7 231.4)" fill="#d41010" stroke="#850000" stroke-width="0.55"/><rect x="947.4" y="188.1" width="17.0" height="3.8" rx="1.3" transform="rotate(69.692 955.9 190.0)" fill="#d41010" stroke="#850000" stroke-width="0.55"/><rect x="952.2" y="120.5" width="10.0" height="3.8" rx="1.3" transform="rotate(56.5212 957.2 122.4)" fill="#d41010" stroke="#850000" stroke-width="0.55"/><rect x="978.2" y="122.2" width="12.0" height="3.8" rx="1.3" transform="rotate(61.5763 984.2 124.1)" fill="#d41010" stroke="#850000" stroke-width="0.55"/><rect x="966.1" y="161.0" width="8.0" height="3.8" rx="1.3" transform="rotate(57.4804 970.1 162.9)" fill="#d41010" stroke="#850000" stroke-width="0.55"/><rect x="965.9" y="196.5" width="5.0" height="3.8" rx="1.3" transform="rotate(60.0944 968.4 198.4)" fill="#d41010" stroke="#850000" stroke-width="0.55"/><rect x="977.1" y="104.5" width="5.0" height="3.8" rx="1.3" transform="rotate(116.893 979.6 106.4)" fill="#d41010" stroke="#850000" stroke-width="0.55"/><rect x="943.1" y="158.7" width="7.0" height="3.8" rx="1.3" transform="rotate(68.1148 946.6 160.6)" fill="#d41010" stroke="#850000" stroke-width="0.55"/><rect x="960.5" y="182.7" width="12.0" height="3.8" rx="1.3" transform="rotate(114.696 966.5 184.6)" fill="#d41010" stroke="#850000" stroke-width="0.55"/><rect x="984.8" y="143.1" width="17.0" height="3.8" rx="1.3" transform="rotate(56.272 993.3 145.0)" fill="#d41010" stroke="#850000" stroke-width="0.55"/><rect x="954.2" y="199.0" width="5.0" height="3.8" rx="1.3" transform="rotate(120.235 956.7 200.9)" fill="#d41010" stroke="#850000" stroke-width="0.55"/><rect x="959.1" y="212.3" width="6.0" height="3.8" rx="1.3" transform="rotate(87.7941 962.1 214.2)" fill="#d41010" stroke="#850000" stroke-width="0.55"/><rect x="963.9" y="139.6" width="6.0" height="3.8" rx="1.3" transform="rotate(63.5029 966.9 141.5)" fill="#d41010" stroke="#850000" stroke-width="0.55"/><rect x="990.9" y="119.8" width="6.0" height="3.8" rx="1.3" transform="rotate(90.7418 993.9 121.7)" fill="#d41010" stroke="#850000" stroke-width="0.55"/><rect x="971.2" y="115.8" width="2.5" height="3.8" rx="1.3" transform="rotate(60.5679 972.4 117.7)" fill="#d41010" stroke="#850000" stroke-width="0.55"/><rect x="969.1" y="205.9" width="17.0" height="3.8" rx="1.3" transform="rotate(120.144 977.6 207.8)" fill="#d41010" stroke="#850000" stroke-width="0.55"/><rect x="981.4" y="223.7" width="6.0" height="3.8" rx="1.3" transform="rotate(59.6204 984.4 225.6)" fill="#d41010" stroke="#850000" stroke-width="0.55"/><rect x="994.4" y="149.3" width="5.0" height="3.8" rx="1.3" transform="rotate(117.445 996.9 151.2)" fill="#d41010" stroke="#850000" stroke-width="0.55"/><rect x="847.9" y="185.8" width="8.0" height="3.8" rx="1.3" transform="rotate(69.0827 851.9 187.7)" fill="#d41010" stroke="#850000" stroke-width="0.55"/><rect x="865.8" y="156.6" width="3.0" height="3.8" rx="1.3" transform="rotate(58.7013 867.3 158.5)" fill="#d41010" stroke="#850000" stroke-width="0.55"/><rect x="841.0" y="217.3" width="2.5" height="3.8" rx="1.3" transform="rotate(87.5491 842.2 219.2)" fill="#d41010" stroke="#850000" stroke-width="0.55"/><rect x="872.8" y="225.0" width="5.0" height="3.8" rx="1.3" transform="rotate(63.9738 875.3 226.9)" fill="#d41010" stroke="#850000" stroke-width="0.55"/><rect x="860.0" y="246.4" width="14.0" height="3.8" rx="1.3" transform="rotate(67.7565 867.0 248.3)" fill="#d41010" stroke="#850000" stroke-width="0.55"/><rect x="846.8" y="178.9" width="9.0" height="3.8" rx="1.3" transform="rotate(52.8801 851.3 180.8)" fill="#d41010" stroke="#850000" stroke-width="0.55"/><rect x="868.9" y="228.0" width="20.0" height="3.8" rx="1.3" transform="rotate(61.7977 878.9 229.9)" fill="#d41010" stroke="#850000" stroke-width="0.55"/><rect x="846.6" y="166.1" width="6.0" height="3.8" rx="1.3" transform="rotate(120.918 849.6 168.0)" fill="#d41010" stroke="#850000" stroke-width="0.55"/><rect x="832.6" y="229.2" width="8.0" height="3.8" rx="1.3" transform="rotate(111.844 836.6 231.1)" fill="#d41010" stroke="#850000" stroke-width="0.55"/><rect x="869.7" y="137.5" width="6.0" height="3.8" rx="1.3" transform="rotate(123.793 872.7 139.4)" fill="#d41010" stroke="#850000" stroke-width="0.55"/><rect x="874.0" y="132.1" width="3.0" height="3.8" rx="1.3" transform="rotate(117.162 875.5 134.0)" fill="#d41010" stroke="#850000" stroke-width="0.55"/><rect x="862.9" y="225.8" width="5.0" height="3.8" rx="1.3" transform="rotate(54.0181 865.4 227.7)" fill="#d41010" stroke="#850000" stroke-width="0.55"/><rect x="838.8" y="142.7" width="2.5" height="3.8" rx="1.3" transform="rotate(85.5904 840.1 144.6)" fill="#d41010" stroke="#850000" stroke-width="0.55"/><rect x="860.2" y="241.0" width="12.0" height="3.8" rx="1.3" transform="rotate(93.7081 866.2 242.9)" fill="#d41010" stroke="#850000" stroke-width="0.55"/><rect x="845.3" y="198.0" width="2.5" height="3.8" rx="1.3" transform="rotate(85.4565 846.5 199.9)" fill="#d41010" stroke="#850000" stroke-width="0.55"/><rect x="926.7" y="262.3" width="14.0" height="3.8" rx="1.3" transform="rotate(66.1029 933.7 264.2)" fill="#d41010" stroke="#850000" stroke-width="0.55"/><rect x="928.7" y="246.4" width="12.0" height="3.8" rx="1.3" transform="rotate(66.9279 934.7 248.3)" fill="#d41010" stroke="#850000" stroke-width="0.55"/><rect x="917.4" y="253.1" width="3.0" height="3.8" rx="1.3" transform="rotate(63.0237 918.9 255.0)" fill="#d41010" stroke="#850000" stroke-width="0.55"/><rect x="911.4" y="261.8" width="2.5" height="3.8" rx="1.3" transform="rotate(54.47 912.7 263.7)" fill="#d41010" stroke="#850000" stroke-width="0.55"/><rect x="939.9" y="240.2" width="9.0" height="3.8" rx="1.3" transform="rotate(90.6374 944.4 242.1)" fill="#d41010" stroke="#850000" stroke-width="0.55"/><rect x="949.8" y="242.3" width="20.0" height="3.8" rx="1.3" transform="rotate(84.2497 959.8 244.2)" fill="#d41010" stroke="#850000" stroke-width="0.55"/><polyline points="1081,592 965,555 690,285" fill="none" stroke="#0b1c4f" stroke-width="2.5" stroke-linejoin="round"/><polygon points="683,278 696.128,283.186 688.42,291.034" fill="#0b1c4f"/><polyline points="722,818 686,335" fill="none" stroke="#0b1c4f" stroke-width="2.5" stroke-linejoin="round"/><polygon points="685,324 691.456,336.553 680.486,337.374" fill="#0b1c4f"/><polyline points="506,775 607,452" fill="none" stroke="#0b1c4f" stroke-width="2.5" stroke-linejoin="round"/><polygon points="610,442 611.374,456.049 600.875,452.769" fill="#0b1c4f"/><polyline points="1071,777 1007,784 777,676" fill="none" stroke="#0b1c4f" stroke-width="2.5" stroke-linejoin="round"/><polygon points="767,671 781.104,671.562 776.419,681.514" fill="#0b1c4f"/><polyline points="1015,250 1021,253 878,467 883,469" fill="none" stroke="#0b1c4f" stroke-width="2" stroke-linejoin="round"/><polyline points="951,365 947,362" fill="none" stroke="#0b1c4f" stroke-width="2" stroke-linejoin="round"/><polyline points="609,341 600,345 788,704 797,700" fill="none" stroke="#5676c8" stroke-width="1.1"/><line x1="680" y1="518" x2="689" y2="514" stroke="#5676c8" stroke-width="1.1"/><circle cx="474.75" cy="123" r="14" fill="#ffc000"/><line x1="476" y1="128" x2="487.888" y2="148.209" stroke="#ffc000" stroke-width="6"/><polygon points="496,162 478.254,151.555 495.493,141.415" fill="#ffc000"/><circle cx="582.7" cy="112.7" r="14" fill="#ffc000"/><line x1="588" y1="118" x2="603.852" y2="131.587" stroke="#ffc000" stroke-width="6"/><polygon points="616,142 595.825,137.878 608.841,122.693" fill="#ffc000"/><circle cx="688" cy="113.5" r="14" fill="#ffc000"/><line x1="688" y1="120" x2="686.579" y2="141.036" stroke="#ffc000" stroke-width="6"/><polygon points="685.5,157 676.736,138.367 696.691,139.715" fill="#ffc000"/><circle cx="950" cy="97.5" r="14.5" fill="#ffc000"/><line x1="949" y1="104" x2="942.925" y2="122.777" stroke="#ffc000" stroke-width="6"/><polygon points="938,138 934.026,117.796 953.055,123.952" fill="#ffc000"/><circle cx="1065.75" cy="76" r="15" fill="#ffc000"/><polygon points="1057,86 1069,86 1068,102 1057,102" fill="#ffc000"/><polygon points="1049,98.6 1063,100.3 1053.9,118.4" fill="#ffc000"/><polygon points="1059.7,101.1 1074.1,102 1063.4,120.1" fill="#ffc000"/><defs><linearGradient id="lv" x1="0" y1="0" x2="1" y2="0"><stop offset="0" stop-color="#e7a9ad"/><stop offset="1" stop-color="#d88088"/></linearGradient></defs><polygon points="10,803 22,801 48,825 48,831 40,832" fill="url(#lv)" opacity="0.85"/><line x1="5" y1="864" x2="48" y2="846" stroke="#e8e0e0" stroke-width="1"/><ellipse cx="27" cy="856" rx="9" ry="8.5" fill="#b8353a"/><ellipse cx="29.5" cy="853" rx="6" ry="5.5" fill="#c9444a"/><line x1="4" y1="922" x2="45" y2="887" stroke="#a9dcee" stroke-width="1"/><line x1="4" y1="951" x2="48" y2="942" stroke="#f5dcb8" stroke-width="1.2"/><rect x="955.5" y="903.5" width="84.5" height="6.5" fill="#fff" stroke="#555" stroke-width="1"/><rect x="955.5" y="903.5" width="42.5" height="6.5" fill="#000"/><line x1="1231" y1="61" x2="1255" y2="61" stroke="#333" stroke-width="1.5"/><polygon points="1263,61 1253,57 1253,65" fill="#333"/><polygon points="1124.8,885.4 1129.5,904.1 1126.2,907.1 1120.1,903.1" fill="#a0844f"/><polygon points="1099,896.1 1121.1,911.1 1108.1,920.9 1093,920.5 1112.1,912.8" fill="#a0844f"/><polygon points="1149.9,896.4 1130.2,904.4 1132.2,912.2 1136.2,920.9 1156,920.5 1137.9,911.8" fill="#a0844f"/><polygon points="1126.2,917.5 1136.9,932.2 1139.2,940.3 1125.5,925.5 1110.4,940.3 1113.8,926.2" fill="#a0844f"/><polygon points="1159.5,869.6 1160.4,871.762 1162.73,871.949 1160.96,873.473 1161.5,875.751 1159.5,874.53 1157.5,875.751 1158.04,873.473 1156.27,871.949 1158.6,871.762" fill="#8e7b5c"/><polygon points="1144.7,883.5 1145.55,885.535 1147.74,885.711 1146.07,887.145 1146.58,889.289 1144.7,888.14 1142.82,889.289 1143.33,887.145 1141.66,885.711 1143.85,885.535" fill="#8e7b5c"/><polygon points="1172.3,879.8 1173.15,881.835 1175.34,882.011 1173.67,883.445 1174.18,885.589 1172.3,884.44 1170.42,885.589 1170.93,883.445 1169.26,882.011 1171.45,881.835" fill="#8e7b5c"/><polygon points="1165,889.6 1165.63,891.126 1167.28,891.258 1166.03,892.334 1166.41,893.942 1165,893.08 1163.59,893.942 1163.97,892.334 1162.72,891.258 1164.37,891.126" fill="#8e7b5c"/><polygon points="1159,903.8 1159.85,905.835 1162.04,906.011 1160.37,907.445 1160.88,909.589 1159,908.44 1157.12,909.589 1157.63,907.445 1155.96,906.011 1158.15,905.835" fill="#8e7b5c"/><rect x="9.3" y="253.3" width="199.4" height="69.9" fill="#fff" stroke="#a9d08e" stroke-width="1.6"/><rect x="9.3" y="339.8" width="199.4" height="267.9" fill="#fff" stroke="#a9d08e" stroke-width="1.6"/><rect x="224.8" y="253.3" width="195.4" height="106.9" fill="#fff" stroke="#a9d08e" stroke-width="1.6"/><rect x="224.8" y="377.8" width="195.4" height="91.9" fill="#fff" stroke="#a9d08e" stroke-width="1.6"/><rect x="224.8" y="489.3" width="195.4" height="95.9" fill="#fff" stroke="#a9d08e" stroke-width="1.6"/><rect x="224.8" y="600.55" width="197.65" height="127.65" fill="#fff" stroke="#a9d08e" stroke-width="1.6"/><rect x="1082.8" y="128.8" width="202.4" height="133.4" fill="#fff" stroke="#a9d08e" stroke-width="1.6"/><rect x="1083.3" y="270.1" width="201.9" height="187.1" fill="#fff" stroke="#a9d08e" stroke-width="1.6"/><rect x="1083.85" y="463.35" width="198.1" height="250.3" fill="#d0d0d0" stroke="#06103f" stroke-width="2.7"/><rect x="1084.95" y="720.65" width="199.7" height="132" fill="#d0d0d0" stroke="#06103f" stroke-width="2.7"/><rect x="409.55" y="792.15" width="198.1" height="167" fill="#d0d0d0" stroke="#06103f" stroke-width="2.7"/><rect x="620.05" y="827.1" width="198.1" height="132.05" fill="#d0d0d0" stroke="#06103f" stroke-width="2.7"/></svg>
<div class="tx" style="left:-41px;top:259.45px;width:300px;font-size:15.3px;line-height:19.5px"><div><span style="display:inline-block;transform:scaleX(0.8791)">EPC1</span></div><div><span style="display:inline-block;transform:scaleX(0.9608)">1.5m @ 8.8 g/t AuEq</span></div><div><span style="display:inline-block;transform:scaleX(0.9608)">1.5m @ 15.7 g/t AuEq</span></div></div>
<div class="tx" style="left:-43px;top:344.45px;width:300px;font-size:15.3px;line-height:19.5px"><div><span style="display:inline-block;transform:scaleX(0.8791)">SDDSC050</span></div><div><span style="display:inline-block;transform:scaleX(0.9608)">29.8 m @ 2.1 g/t AuEq</span></div><div><span style="display:inline-block;transform:scaleX(0.9608)">14.5 m @ 4.9 g/t AuEq</span></div><div><span style="display:inline-block;transform:scaleX(0.9608)">20.0 m @ 4.4 g/t AuEq</span></div><div><span style="display:inline-block;transform:scaleX(0.9608)">5.8 m @ 11.5 g/t AuEq</span></div><div><span style="display:inline-block;transform:scaleX(0.9608)">19.2 m @ 1.3 g/t AuEq</span></div><div><span style="display:inline-block;transform:scaleX(0.9608)">12.6 m @ 4.7 g/t AuEq</span></div><div><span style="display:inline-block;transform:scaleX(0.9608)">13.2 m @ 5.6 g/t AuEq</span></div><div><span style="display:inline-block;transform:scaleX(0.9608)">4.7 m @ 3.2 g/t AuEq</span></div><div><span style="display:inline-block;transform:scaleX(0.9608)">5.0 m @ 36.1 g/t AuEq</span></div><div><span style="display:inline-block;transform:scaleX(0.9608)">0.3 m @ 54.6 g/t AuEq</span></div><div><span style="display:inline-block;transform:scaleX(0.9608)">9.0 m @ 7.3 g/t AuEq</span></div><div><span style="display:inline-block;transform:scaleX(0.9608)">4.9 m @ 8.8 g/t AuEq</span></div></div>
<div class="tx" style="left:172.5px;top:259.45px;width:300px;font-size:15.3px;line-height:19.5px"><div><span style="display:inline-block;transform:scaleX(0.8791)">SDDSC049</span></div><div><span style="display:inline-block;transform:scaleX(0.9608)">48.9 m @ 3.0 g/t AuEq</span></div><div><span style="display:inline-block;transform:scaleX(0.9608)">incl.</span></div><div><span style="display:inline-block;transform:scaleX(0.9608)">2.7 m @ 20.9 g/t AuEq</span></div><div><span style="display:inline-block;transform:scaleX(0.9608)">2.3 m @ 27.9 g/t AuEq</span></div></div>
<div class="tx" style="left:172.5px;top:383.45px;width:300px;font-size:15.3px;line-height:19.5px"><div><span style="display:inline-block;transform:scaleX(0.8791)">SDDSC046</span></div><div><span style="display:inline-block;transform:scaleX(0.9608)">21.5 m @ 15.0 g/t AuEq</span></div><div><span style="display:inline-block;transform:scaleX(0.9608)">incl.</span></div><div><span style="display:inline-block;transform:scaleX(0.9608)">2.1 m @ 121.6 g/t AuEq</span></div></div>
<div class="tx" style="left:172.5px;top:495.45px;width:300px;font-size:15.3px;line-height:19.5px"><div><span style="display:inline-block;transform:scaleX(0.8791)">SDDSC061</span></div><div><span style="display:inline-block;transform:scaleX(0.9608)">12.0 m @ 7.4 g/t AuEq</span></div><div><span style="display:inline-block;transform:scaleX(0.9608)">incl</span></div><div><span style="display:inline-block;transform:scaleX(0.9608)">0.3 m @ 249.5 g/t AuEq</span></div></div>
<div class="tx" style="left:173.625px;top:606.70px;width:300px;font-size:15.3px;line-height:19.5px"><div><span style="display:inline-block;transform:scaleX(0.8791)">SDDSC064</span></div><div><span style="display:inline-block;transform:scaleX(0.9608)">0.4 m @ 48.5 g/t AuEq</span></div><div><span style="display:inline-block;transform:scaleX(0.9608)">0.3 m @ 16.3 g/t AuEq</span></div><div><span style="display:inline-block;transform:scaleX(0.9608)">0.9 m @ 5.6 g/t AuEq</span></div><div><span style="display:inline-block;transform:scaleX(0.9608)">1.2 m @ 121.8 g/t AuEq</span></div><div><span style="display:inline-block;transform:scaleX(0.9608)">0.6 m @ 12.6 g/t AuEq</span></div></div>
<div class="tx" style="left:1034px;top:135.95px;width:300px;font-size:15.3px;line-height:19.5px"><div><span style="display:inline-block;transform:scaleX(0.8791)">SDDSC033</span></div><div><span style="display:inline-block;transform:scaleX(0.9608)">119.2 m @ 3.9 g/t AuEq<sup>&#8226;</sup></span></div><div><span style="display:inline-block;transform:scaleX(0.9608)">incl.</span></div><div><span style="display:inline-block;transform:scaleX(0.9608)">5.1 m @ 20.3 g/t AuEq</span></div><div><span style="display:inline-block;transform:scaleX(0.9608)">2.3 m @ 32.0 g/t AuEq</span></div><div><span style="display:inline-block;transform:scaleX(0.9608)">5.2 m @ 22.3 g/t AuEq</span></div></div>
<div class="tx" style="left:1034.25px;top:277.20px;width:300px;font-size:15.3px;line-height:19.5px"><div><span style="display:inline-block;transform:scaleX(0.8791)">SDDSC066</span></div><div><span style="display:inline-block;transform:scaleX(0.9608)">0.2 m @ 34.1 g/t AuEq</span></div><div><span style="display:inline-block;transform:scaleX(0.9608)">10.5 m @ 5.8 g/t AuEq</span></div><div><span style="display:inline-block;transform:scaleX(0.9608)">7.8 m @ 5.4 g/t AuEq</span></div><div><span style="display:inline-block;transform:scaleX(0.9608)">0.8 m @ 13.9 g/t AuEq</span></div><div><span style="display:inline-block;transform:scaleX(0.9608)">10.4 m @ 22.4 g/t AuEq</span></div><div><span style="display:inline-block;transform:scaleX(0.9608)">incl.</span></div><div><span style="display:inline-block;transform:scaleX(0.9608)">1.0 m @ 224.3 g/t AuEq</span></div><div><span style="display:inline-block;transform:scaleX(0.9608)">0.8 m @ 10.6 g/t AuEq</span></div></div>
<div class="tx b" style="left:1032.9px;top:471.35px;width:300px;font-size:15px;line-height:19.3px"><div><span style="display:inline-block;transform:scaleX(0.8961)">SDDSC071</span></div><div><span style="display:inline-block;transform:scaleX(0.9533)">7.1 m @ 4.0 g/t AuEq</span></div><div><span style="display:inline-block;transform:scaleX(0.9533)">(2.0 g/t Au, 1.3 % Sb)</span></div><div><span style="display:inline-block;transform:scaleX(0.9533)">incl.</span></div><div><span style="display:inline-block;transform:scaleX(0.9533)">3.0 m @ 7.9 g/t AuEq</span></div><div><span style="display:inline-block;transform:scaleX(0.9533)">(3.6 g/t Au, 2.7 % Sb)</span></div><div><span style="display:inline-block;transform:scaleX(0.9533)">and</span></div><div><span style="display:inline-block;transform:scaleX(0.9533)">8.8 m @ 1.2 g/t AuEq</span></div><div><span style="display:inline-block;transform:scaleX(0.9533)">(0.7 g/t Au, 0.4 % Sb)</span></div><div><span style="display:inline-block;transform:scaleX(0.9533)">Incl.</span></div><div><span style="display:inline-block;transform:scaleX(0.9533)">0.5 m @ 5.2 g/t AuEq</span></div><div><span style="display:inline-block;transform:scaleX(0.9533)">(2.0 g/t Au, 2.1 % Sb)</span></div></div>
<div class="tx b" style="left:1034.8px;top:727.65px;width:300px;font-size:15px;line-height:19.3px"><div><span style="display:inline-block;transform:scaleX(0.8961)">SDDSC070</span></div><div><span style="display:inline-block;transform:scaleX(0.9533)">5.2 m @ 2.6 g/t AuEq</span></div><div><span style="display:inline-block;transform:scaleX(0.9533)">(2.6 g/t Au, 0.0 % Sb)</span></div><div><span style="display:inline-block;transform:scaleX(0.9533)">incl.</span></div><div><span style="display:inline-block;transform:scaleX(0.9533)">0.9 m @ 11.5 g/t AuEq</span></div><div><span style="display:inline-block;transform:scaleX(0.9533)">(11.5 g/t Au, 0.0 % Sb)</span></div></div>
<div class="tx b" style="left:358.6px;top:798.90px;width:300px;font-size:15px;line-height:19.3px"><div><span style="display:inline-block;transform:scaleX(0.8961)">SDDSC067</span></div><div><span style="display:inline-block;transform:scaleX(0.9533)">0.6 m @ 161.6 g/t AuEq</span></div><div><span style="display:inline-block;transform:scaleX(0.9533)">(87.6 g/t Au, 46.8 % Sb)</span></div><div><span style="display:inline-block;transform:scaleX(0.9533)">incl.</span></div><div><span style="display:inline-block;transform:scaleX(0.9533)">0.1 m @ 170.5 g/t AuEq</span></div><div><span style="display:inline-block;transform:scaleX(0.9533)">(140.0 g/t Au, 19.3 % Sb)</span></div><div><span style="display:inline-block;transform:scaleX(0.9533)">0.5 m @ 159.3 g/t AuEq</span></div><div><span style="display:inline-block;transform:scaleX(0.9533)">(74.0 g/t Au, 54.0 % Sb)</span></div></div>
<div class="tx b" style="left:569.1px;top:833.65px;width:300px;font-size:15px;line-height:19.3px"><div><span style="display:inline-block;transform:scaleX(0.8961)">SDDSC069</span></div><div><span style="display:inline-block;transform:scaleX(0.9533)">2.1 m @ 6.2 g/t AuEq</span></div><div><span style="display:inline-block;transform:scaleX(0.9533)">(5.0 g/t Au, 0.7 % Sb)</span></div><div><span style="display:inline-block;transform:scaleX(0.9533)">incl.</span></div><div><span style="display:inline-block;transform:scaleX(0.9533)">0.4 m @ 24.7 g/t AuEq</span></div><div><span style="display:inline-block;transform:scaleX(0.9533)">(21.0 g/t Au, 2.3 % Sb)</span></div></div>
<div class="lb" style="left:72px;top:6.0937px;font-size:18.2px;font-weight:bold;color:#111;font-family:'Liberation Sans', sans-serif;">Christina</div>
<div class="lb" style="left:441.5px;top:8.17045px;font-size:18.7px;font-weight:bold;color:#111;font-family:'Liberation Sans', sans-serif;">Golden Dyke</div>
<div class="lb" style="left:641px;top:6.01695px;font-size:17.7px;font-weight:bold;color:#111;font-family:'Liberation Sans', sans-serif;">Rising Sun</div>
<div class="lb" style="left:790.5px;top:4.763px;font-size:18px;font-weight:bold;color:#111;font-family:'Liberation Sans', sans-serif;">Gladys</div>
<div class="lb" style="left:894px;top:1.50115px;font-size:18.9px;font-weight:bold;color:#111;font-family:'Liberation Sans', sans-serif;">Apollo</div>
<div class="lb" style="left:20px;top:89.763px;font-size:18px;font-weight:bold;color:#111;font-family:'Liberation Sans', sans-serif;">E</div>
<div class="lb" style="left:1235.5px;top:70.1095px;font-size:17px;font-weight:bold;color:#111;font-family:'Liberation Sans', sans-serif;">F</div>
<div class="lb" style="left:395px;top:72.9797px;font-size:14.2px;font-weight:bold;color:#f5c136;font-family:'Liberation Sans', sans-serif;">SDDSC077B</div>
<div class="lb" style="left:547px;top:52.9797px;font-size:14.2px;font-weight:bold;color:#f5c136;font-family:'Liberation Sans', sans-serif;">SDDSC076</div>
<div class="lb" style="left:547px;top:73.9797px;font-size:14.2px;font-weight:bold;color:#f5c136;font-family:'Liberation Sans', sans-serif;">SDDSC078</div>
<div class="lb" style="left:654px;top:76.9797px;font-size:14.2px;font-weight:bold;color:#f5c136;font-family:'Liberation Sans', sans-serif;">SDDSC080</div>
<div class="lb" style="left:918px;top:58.9797px;font-size:14.2px;font-weight:bold;color:#f5c136;font-family:'Liberation Sans', sans-serif;">SDDSC074</div>
<div class="lb" style="left:1097.5px;top:64.9797px;font-size:14.2px;font-weight:bold;color:#f5c136;font-family:'Liberation Sans', sans-serif;">SDDSC068</div>
<div class="lb" style="left:1097.5px;top:85.9797px;font-size:14.2px;font-weight:bold;color:#f5c136;font-family:'Liberation Sans', sans-serif;">SDDSC073</div>
<div class="lb" style="left:1097.5px;top:107.98px;font-size:14.2px;font-weight:bold;color:#f5c136;font-family:'Liberation Sans', sans-serif;">SDDSC079</div>
<div class="lb" style="left:1092px;top:18.1332px;font-size:15.2px;font-weight:normal;color:#222;font-family:'Liberation Sans', sans-serif;-webkit-text-stroke:0.3px #222">Mineralised dyke breccia host</div>
<div class="lb" style="left:1127px;top:38.3025px;font-size:15px;font-weight:normal;color:#222;font-family:'Liberation Sans', sans-serif;-webkit-text-stroke:0.3px #222">extends 10 km east</div>
<div class="lb" style="left:69.5px;top:814.263px;font-size:18px;font-weight:bold;color:#111;font-family:'Liberation Sans', sans-serif;">Mineralised Vein</div>
<div class="lb" style="left:69.5px;top:850.802px;font-size:17.6px;font-weight:bold;color:#111;font-family:'Liberation Sans', sans-serif;">3 m @ 0.3 g/t AuEq cutoff interval</div>
<div class="lb" style="left:71px;top:891.956px;font-size:17.3px;font-weight:bold;color:#111;font-family:'Liberation Sans', sans-serif;">Drill hole: Released here</div>
<div class="lb" style="left:71px;top:932.779px;font-size:16.8px;font-weight:bold;color:#111;font-family:'Liberation Sans', sans-serif;">Drill hole: Assays pending</div>
<div class="lb" style="left:963px;top:919.877px;font-size:22px;font-weight:bold;color:#111;font-family:'Liberation Sans', sans-serif;">125 m</div>
<div class="lb" style="left:1165.6px;top:910.973px;font-size:12.2px;font-weight:bold;color:#343a6b;font-family:'Liberation Sans', sans-serif;">SOUTHERN</div>
<div class="lb" style="left:1237.9px;top:911.565px;font-size:11.5px;font-weight:normal;color:#7d7f99;font-family:'Liberation Sans', sans-serif;">CROSS</div>
<div class="lb" style="left:1165.5px;top:923.924px;font-size:18.4px;font-weight:normal;color:#a08450;font-family:'Liberation Sans', sans-serif;letter-spacing:2.9px;-webkit-text-stroke:0.3px #a08450">GOLD</div>
</body></html>
